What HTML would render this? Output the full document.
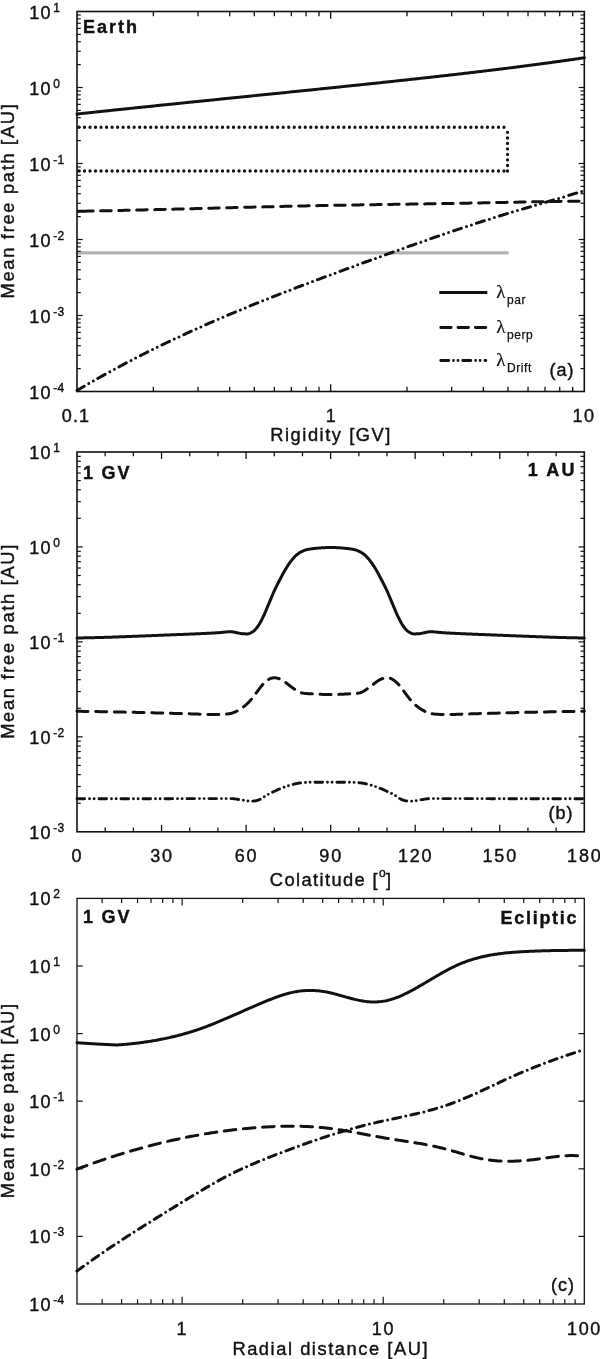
<!DOCTYPE html>
<html lang="en">
<head>
<meta charset="utf-8">
<title>Mean free paths</title>
<style>
html,body{margin:0;padding:0;background:#fff;}
body{width:600px;height:1359px;overflow:hidden;}
svg{display:block;}
svg text{font-family:"Liberation Sans",Arial,Helvetica,sans-serif;fill:#111;stroke:#111;stroke-width:0.4px;}
</style>
</head>
<body>
<svg width="600" height="1359" viewBox="0 0 600 1359">
<rect x="0" y="0" width="600" height="1359" fill="#ffffff"/>
<g id="plot-a">
<line x1="77" y1="252.8" x2="507.34" y2="252.8" stroke="#b2b2b2" stroke-width="3.2" stroke-linecap="round"/>
<path d="M504,127.25 H77" fill="none" stroke="#111" stroke-width="3.3" stroke-dasharray="0 5.52" stroke-linecap="round"/>
<path d="M504,171 H77" fill="none" stroke="#111" stroke-width="3.3" stroke-dasharray="0 5.52" stroke-linecap="round"/>
<path d="M507.5,171 V131" fill="none" stroke="#111" stroke-width="3.3" stroke-dasharray="0 5.52" stroke-linecap="round"/>
<path d="M77,114.03 L78.27,113.89 L79.54,113.76 L80.81,113.62 L82.09,113.48 L83.36,113.35 L84.63,113.21 L85.9,113.07 L87.17,112.94 L88.44,112.8 L89.71,112.67 L90.99,112.53 L92.26,112.4 L93.53,112.26 L94.8,112.13 L96.07,111.99 L97.34,111.86 L98.61,111.72 L99.89,111.59 L101.16,111.45 L102.43,111.32 L103.7,111.18 L104.97,111.05 L106.24,110.91 L107.51,110.78 L108.79,110.65 L110.06,110.51 L111.33,110.38 L112.6,110.24 L113.87,110.11 L115.14,109.98 L116.41,109.84 L117.69,109.71 L118.96,109.58 L120.23,109.44 L121.5,109.31 L122.77,109.18 L124.04,109.04 L125.31,108.91 L126.59,108.78 L127.86,108.65 L129.13,108.51 L130.4,108.38 L131.67,108.25 L132.94,108.12 L134.21,107.98 L135.49,107.85 L136.76,107.72 L138.03,107.59 L139.3,107.46 L140.57,107.32 L141.84,107.19 L143.11,107.06 L144.39,106.93 L145.66,106.8 L146.93,106.66 L148.2,106.53 L149.47,106.4 L150.74,106.27 L152.01,106.14 L153.29,106.01 L154.56,105.88 L155.83,105.74 L157.1,105.61 L158.37,105.48 L159.64,105.35 L160.91,105.22 L162.19,105.09 L163.46,104.96 L164.73,104.83 L166,104.7 L167.27,104.57 L168.54,104.44 L169.81,104.3 L171.09,104.17 L172.36,104.04 L173.63,103.91 L174.9,103.78 L176.17,103.65 L177.44,103.52 L178.71,103.39 L179.99,103.26 L181.26,103.13 L182.53,103 L183.8,102.87 L185.07,102.74 L186.34,102.61 L187.61,102.48 L188.89,102.35 L190.16,102.22 L191.43,102.09 L192.7,101.96 L193.97,101.83 L195.24,101.7 L196.51,101.57 L197.79,101.44 L199.06,101.31 L200.33,101.18 L201.6,101.05 L202.87,100.92 L204.14,100.79 L205.41,100.66 L206.69,100.54 L207.96,100.41 L209.23,100.28 L210.5,100.15 L211.77,100.02 L213.04,99.89 L214.31,99.76 L215.59,99.63 L216.86,99.5 L218.13,99.37 L219.4,99.24 L220.67,99.11 L221.94,98.98 L223.21,98.85 L224.49,98.72 L225.76,98.59 L227.03,98.47 L228.3,98.34 L229.57,98.21 L230.84,98.08 L232.11,97.95 L233.39,97.82 L234.66,97.69 L235.93,97.56 L237.2,97.43 L238.47,97.3 L239.74,97.17 L241.01,97.04 L242.29,96.91 L243.56,96.79 L244.83,96.66 L246.1,96.53 L247.37,96.4 L248.64,96.27 L249.91,96.14 L251.19,96.01 L252.46,95.88 L253.73,95.75 L255,95.62 L256.27,95.49 L257.54,95.36 L258.81,95.23 L260.09,95.1 L261.36,94.98 L262.63,94.85 L263.9,94.72 L265.17,94.59 L266.44,94.46 L267.71,94.33 L268.99,94.2 L270.26,94.07 L271.53,93.94 L272.8,93.81 L274.07,93.68 L275.34,93.55 L276.61,93.42 L277.89,93.29 L279.16,93.16 L280.43,93.03 L281.7,92.9 L282.97,92.77 L284.24,92.64 L285.51,92.51 L286.79,92.38 L288.06,92.25 L289.33,92.12 L290.6,91.99 L291.87,91.86 L293.14,91.73 L294.41,91.6 L295.69,91.47 L296.96,91.34 L298.23,91.21 L299.5,91.08 L300.77,90.95 L302.04,90.82 L303.31,90.69 L304.59,90.56 L305.86,90.43 L307.13,90.3 L308.4,90.17 L309.67,90.04 L310.94,89.91 L312.21,89.78 L313.49,89.65 L314.76,89.52 L316.03,89.39 L317.3,89.26 L318.57,89.13 L319.84,88.99 L321.11,88.86 L322.39,88.73 L323.66,88.6 L324.93,88.47 L326.2,88.34 L327.47,88.21 L328.74,88.08 L330.01,87.94 L331.29,87.81 L332.56,87.68 L333.83,87.55 L335.1,87.42 L336.37,87.29 L337.64,87.15 L338.91,87.02 L340.19,86.89 L341.46,86.76 L342.73,86.63 L344,86.49 L345.27,86.36 L346.54,86.23 L347.81,86.1 L349.09,85.96 L350.36,85.83 L351.63,85.7 L352.9,85.57 L354.17,85.43 L355.44,85.3 L356.71,85.17 L357.99,85.03 L359.26,84.9 L360.53,84.77 L361.8,84.63 L363.07,84.5 L364.34,84.37 L365.61,84.23 L366.89,84.1 L368.16,83.97 L369.43,83.83 L370.7,83.7 L371.97,83.56 L373.24,83.43 L374.51,83.3 L375.79,83.16 L377.06,83.03 L378.33,82.89 L379.6,82.76 L380.87,82.62 L382.14,82.49 L383.41,82.35 L384.69,82.22 L385.96,82.08 L387.23,81.95 L388.5,81.81 L389.77,81.68 L391.04,81.54 L392.31,81.4 L393.59,81.27 L394.86,81.13 L396.13,81 L397.4,80.86 L398.67,80.72 L399.94,80.59 L401.21,80.45 L402.49,80.31 L403.76,80.17 L405.03,80.04 L406.3,79.9 L407.57,79.76 L408.84,79.62 L410.11,79.49 L411.39,79.35 L412.66,79.21 L413.93,79.07 L415.2,78.93 L416.47,78.79 L417.74,78.65 L419.01,78.51 L420.29,78.37 L421.56,78.23 L422.83,78.09 L424.1,77.95 L425.37,77.81 L426.64,77.67 L427.91,77.53 L429.19,77.39 L430.46,77.25 L431.73,77.11 L433,76.97 L434.27,76.83 L435.54,76.68 L436.81,76.54 L438.09,76.4 L439.36,76.26 L440.63,76.11 L441.9,75.97 L443.17,75.83 L444.44,75.68 L445.71,75.54 L446.99,75.4 L448.26,75.25 L449.53,75.11 L450.8,74.96 L452.07,74.82 L453.34,74.67 L454.61,74.52 L455.89,74.38 L457.16,74.23 L458.43,74.09 L459.7,73.94 L460.97,73.79 L462.24,73.64 L463.51,73.5 L464.79,73.35 L466.06,73.2 L467.33,73.05 L468.6,72.9 L469.87,72.75 L471.14,72.6 L472.41,72.45 L473.69,72.3 L474.96,72.15 L476.23,72 L477.5,71.85 L478.77,71.7 L480.04,71.55 L481.31,71.4 L482.59,71.25 L483.86,71.09 L485.13,70.94 L486.4,70.79 L487.67,70.63 L488.94,70.48 L490.21,70.32 L491.49,70.17 L492.76,70.01 L494.03,69.86 L495.3,69.7 L496.57,69.55 L497.84,69.39 L499.11,69.23 L500.39,69.08 L501.66,68.92 L502.93,68.76 L504.2,68.6 L505.47,68.45 L506.74,68.29 L508.01,68.13 L509.29,67.97 L510.56,67.81 L511.83,67.65 L513.1,67.49 L514.37,67.32 L515.64,67.16 L516.91,67 L518.19,66.84 L519.46,66.68 L520.73,66.51 L522,66.35 L523.27,66.18 L524.54,66.02 L525.81,65.85 L527.09,65.69 L528.36,65.52 L529.63,65.36 L530.9,65.19 L532.17,65.02 L533.44,64.86 L534.71,64.69 L535.99,64.52 L537.26,64.35 L538.53,64.18 L539.8,64.01 L541.07,63.84 L542.34,63.67 L543.61,63.5 L544.89,63.33 L546.16,63.16 L547.43,62.98 L548.7,62.81 L549.97,62.64 L551.24,62.46 L552.51,62.29 L553.79,62.11 L555.06,61.94 L556.33,61.76 L557.6,61.59 L558.87,61.41 L560.14,61.23 L561.41,61.05 L562.69,60.88 L563.96,60.7 L565.23,60.52 L566.5,60.34 L567.77,60.16 L569.04,59.98 L570.31,59.8 L571.59,59.61 L572.86,59.43 L574.13,59.25 L575.4,59.07 L576.67,58.88 L577.94,58.7 L579.21,58.51 L580.49,58.33 L581.76,58.14 L583.03,57.96 L584.3,57.77" fill="none" stroke="#111" stroke-width="3" stroke-linecap="round" stroke-linejoin="round"/>
<path d="M77,211.3 L78.27,211.28 L79.54,211.25 L80.81,211.23 L82.09,211.21 L83.36,211.19 L84.63,211.16 L85.9,211.14 L87.17,211.11 L88.44,211.09 L89.71,211.07 L90.99,211.04 L92.26,211.02 L93.53,210.99 L94.8,210.97 L96.07,210.94 L97.34,210.92 L98.61,210.89 L99.89,210.87 L101.16,210.84 L102.43,210.81 L103.7,210.79 L104.97,210.76 L106.24,210.73 L107.51,210.71 L108.79,210.68 L110.06,210.65 L111.33,210.63 L112.6,210.6 L113.87,210.57 L115.14,210.55 L116.41,210.52 L117.69,210.49 L118.96,210.46 L120.23,210.43 L121.5,210.41 L122.77,210.38 L124.04,210.35 L125.31,210.32 L126.59,210.29 L127.86,210.26 L129.13,210.23 L130.4,210.2 L131.67,210.17 L132.94,210.15 L134.21,210.12 L135.49,210.09 L136.76,210.06 L138.03,210.03 L139.3,210 L140.57,209.97 L141.84,209.94 L143.11,209.91 L144.39,209.88 L145.66,209.85 L146.93,209.81 L148.2,209.78 L149.47,209.75 L150.74,209.72 L152.01,209.69 L153.29,209.66 L154.56,209.63 L155.83,209.6 L157.1,209.57 L158.37,209.54 L159.64,209.5 L160.91,209.47 L162.19,209.44 L163.46,209.41 L164.73,209.38 L166,209.35 L167.27,209.31 L168.54,209.28 L169.81,209.25 L171.09,209.22 L172.36,209.19 L173.63,209.15 L174.9,209.12 L176.17,209.09 L177.44,209.06 L178.71,209.02 L179.99,208.99 L181.26,208.96 L182.53,208.93 L183.8,208.89 L185.07,208.86 L186.34,208.83 L187.61,208.8 L188.89,208.76 L190.16,208.73 L191.43,208.7 L192.7,208.67 L193.97,208.63 L195.24,208.6 L196.51,208.57 L197.79,208.53 L199.06,208.5 L200.33,208.47 L201.6,208.44 L202.87,208.4 L204.14,208.37 L205.41,208.34 L206.69,208.3 L207.96,208.27 L209.23,208.24 L210.5,208.21 L211.77,208.17 L213.04,208.14 L214.31,208.11 L215.59,208.07 L216.86,208.04 L218.13,208.01 L219.4,207.98 L220.67,207.94 L221.94,207.91 L223.21,207.88 L224.49,207.84 L225.76,207.81 L227.03,207.78 L228.3,207.75 L229.57,207.71 L230.84,207.68 L232.11,207.65 L233.39,207.62 L234.66,207.58 L235.93,207.55 L237.2,207.52 L238.47,207.49 L239.74,207.45 L241.01,207.42 L242.29,207.39 L243.56,207.36 L244.83,207.32 L246.1,207.29 L247.37,207.26 L248.64,207.23 L249.91,207.2 L251.19,207.17 L252.46,207.13 L253.73,207.1 L255,207.07 L256.27,207.04 L257.54,207.01 L258.81,206.98 L260.09,206.94 L261.36,206.91 L262.63,206.88 L263.9,206.85 L265.17,206.82 L266.44,206.79 L267.71,206.76 L268.99,206.73 L270.26,206.7 L271.53,206.67 L272.8,206.64 L274.07,206.61 L275.34,206.58 L276.61,206.55 L277.89,206.52 L279.16,206.49 L280.43,206.46 L281.7,206.43 L282.97,206.4 L284.24,206.37 L285.51,206.34 L286.79,206.31 L288.06,206.28 L289.33,206.25 L290.6,206.22 L291.87,206.19 L293.14,206.16 L294.41,206.14 L295.69,206.11 L296.96,206.08 L298.23,206.05 L299.5,206.02 L300.77,206 L302.04,205.97 L303.31,205.94 L304.59,205.91 L305.86,205.89 L307.13,205.86 L308.4,205.83 L309.67,205.8 L310.94,205.78 L312.21,205.75 L313.49,205.73 L314.76,205.7 L316.03,205.67 L317.3,205.65 L318.57,205.62 L319.84,205.6 L321.11,205.57 L322.39,205.55 L323.66,205.52 L324.93,205.5 L326.2,205.47 L327.47,205.45 L328.74,205.42 L330.01,205.4 L331.29,205.38 L332.56,205.35 L333.83,205.33 L335.1,205.31 L336.37,205.28 L337.64,205.26 L338.91,205.24 L340.19,205.21 L341.46,205.19 L342.73,205.17 L344,205.15 L345.27,205.13 L346.54,205.1 L347.81,205.08 L349.09,205.06 L350.36,205.04 L351.63,205.02 L352.9,205 L354.17,204.98 L355.44,204.95 L356.71,204.93 L357.99,204.91 L359.26,204.89 L360.53,204.87 L361.8,204.85 L363.07,204.83 L364.34,204.81 L365.61,204.79 L366.89,204.77 L368.16,204.75 L369.43,204.73 L370.7,204.71 L371.97,204.69 L373.24,204.67 L374.51,204.65 L375.79,204.63 L377.06,204.61 L378.33,204.59 L379.6,204.58 L380.87,204.56 L382.14,204.54 L383.41,204.52 L384.69,204.5 L385.96,204.48 L387.23,204.46 L388.5,204.44 L389.77,204.42 L391.04,204.4 L392.31,204.38 L393.59,204.37 L394.86,204.35 L396.13,204.33 L397.4,204.31 L398.67,204.29 L399.94,204.27 L401.21,204.25 L402.49,204.23 L403.76,204.21 L405.03,204.19 L406.3,204.18 L407.57,204.16 L408.84,204.14 L410.11,204.12 L411.39,204.1 L412.66,204.08 L413.93,204.06 L415.2,204.04 L416.47,204.02 L417.74,204 L419.01,203.98 L420.29,203.96 L421.56,203.94 L422.83,203.92 L424.1,203.9 L425.37,203.88 L426.64,203.86 L427.91,203.84 L429.19,203.82 L430.46,203.8 L431.73,203.78 L433,203.76 L434.27,203.74 L435.54,203.72 L436.81,203.7 L438.09,203.68 L439.36,203.66 L440.63,203.64 L441.9,203.62 L443.17,203.6 L444.44,203.57 L445.71,203.55 L446.99,203.53 L448.26,203.51 L449.53,203.49 L450.8,203.47 L452.07,203.44 L453.34,203.42 L454.61,203.4 L455.89,203.37 L457.16,203.35 L458.43,203.33 L459.7,203.31 L460.97,203.28 L462.24,203.26 L463.51,203.23 L464.79,203.21 L466.06,203.19 L467.33,203.16 L468.6,203.14 L469.87,203.11 L471.14,203.09 L472.41,203.06 L473.69,203.04 L474.96,203.01 L476.23,202.99 L477.5,202.96 L478.77,202.94 L480.04,202.91 L481.31,202.89 L482.59,202.86 L483.86,202.83 L485.13,202.81 L486.4,202.78 L487.67,202.76 L488.94,202.73 L490.21,202.71 L491.49,202.68 L492.76,202.65 L494.03,202.63 L495.3,202.6 L496.57,202.58 L497.84,202.55 L499.11,202.52 L500.39,202.5 L501.66,202.47 L502.93,202.44 L504.2,202.42 L505.47,202.39 L506.74,202.37 L508.01,202.34 L509.29,202.32 L510.56,202.29 L511.83,202.26 L513.1,202.24 L514.37,202.21 L515.64,202.19 L516.91,202.16 L518.19,202.14 L519.46,202.11 L520.73,202.09 L522,202.06 L523.27,202.04 L524.54,202.01 L525.81,201.99 L527.09,201.96 L528.36,201.94 L529.63,201.91 L530.9,201.89 L532.17,201.87 L533.44,201.84 L534.71,201.82 L535.99,201.79 L537.26,201.77 L538.53,201.75 L539.8,201.73 L541.07,201.7 L542.34,201.68 L543.61,201.66 L544.89,201.64 L546.16,201.61 L547.43,201.59 L548.7,201.57 L549.97,201.55 L551.24,201.53 L552.51,201.51 L553.79,201.49 L555.06,201.47 L556.33,201.45 L557.6,201.43 L558.87,201.41 L560.14,201.39 L561.41,201.37 L562.69,201.36 L563.96,201.34 L565.23,201.32 L566.5,201.3 L567.77,201.29 L569.04,201.27 L570.31,201.25 L571.59,201.24 L572.86,201.22 L574.13,201.21 L575.4,201.19 L576.67,201.18 L577.94,201.16 L579.21,201.15 L580.49,201.14 L581.76,201.12 L583.03,201.11 L584.3,201.1" fill="none" stroke="#111" stroke-width="3" stroke-linecap="round" stroke-linejoin="round" stroke-dasharray="10.5 7.5" stroke-dashoffset="-5.7"/>
<line x1="77" y1="211.3" x2="82.7" y2="211.17" stroke="#111" stroke-width="3" />
<path d="M77,390.45 L78.27,389.7 L79.54,388.95 L80.81,388.2 L82.09,387.46 L83.36,386.71 L84.63,385.97 L85.9,385.23 L87.17,384.5 L88.44,383.77 L89.71,383.03 L90.99,382.3 L92.26,381.58 L93.53,380.85 L94.8,380.13 L96.07,379.41 L97.34,378.69 L98.61,377.98 L99.89,377.27 L101.16,376.55 L102.43,375.85 L103.7,375.14 L104.97,374.43 L106.24,373.73 L107.51,373.03 L108.79,372.33 L110.06,371.64 L111.33,370.94 L112.6,370.25 L113.87,369.56 L115.14,368.88 L116.41,368.19 L117.69,367.51 L118.96,366.83 L120.23,366.15 L121.5,365.47 L122.77,364.8 L124.04,364.12 L125.31,363.45 L126.59,362.78 L127.86,362.12 L129.13,361.45 L130.4,360.79 L131.67,360.13 L132.94,359.47 L134.21,358.81 L135.49,358.16 L136.76,357.51 L138.03,356.86 L139.3,356.21 L140.57,355.56 L141.84,354.91 L143.11,354.27 L144.39,353.63 L145.66,352.99 L146.93,352.35 L148.2,351.72 L149.47,351.08 L150.74,350.45 L152.01,349.82 L153.29,349.19 L154.56,348.56 L155.83,347.94 L157.1,347.32 L158.37,346.7 L159.64,346.08 L160.91,345.46 L162.19,344.84 L163.46,344.23 L164.73,343.61 L166,343 L167.27,342.39 L168.54,341.79 L169.81,341.18 L171.09,340.58 L172.36,339.98 L173.63,339.37 L174.9,338.78 L176.17,338.18 L177.44,337.58 L178.71,336.99 L179.99,336.39 L181.26,335.8 L182.53,335.21 L183.8,334.63 L185.07,334.04 L186.34,333.46 L187.61,332.87 L188.89,332.29 L190.16,331.71 L191.43,331.13 L192.7,330.56 L193.97,329.98 L195.24,329.41 L196.51,328.83 L197.79,328.26 L199.06,327.69 L200.33,327.12 L201.6,326.56 L202.87,325.99 L204.14,325.43 L205.41,324.87 L206.69,324.3 L207.96,323.75 L209.23,323.19 L210.5,322.63 L211.77,322.07 L213.04,321.52 L214.31,320.97 L215.59,320.42 L216.86,319.87 L218.13,319.32 L219.4,318.77 L220.67,318.22 L221.94,317.68 L223.21,317.13 L224.49,316.59 L225.76,316.05 L227.03,315.51 L228.3,314.97 L229.57,314.44 L230.84,313.9 L232.11,313.36 L233.39,312.83 L234.66,312.3 L235.93,311.77 L237.2,311.24 L238.47,310.71 L239.74,310.18 L241.01,309.65 L242.29,309.13 L243.56,308.6 L244.83,308.08 L246.1,307.56 L247.37,307.04 L248.64,306.51 L249.91,306 L251.19,305.48 L252.46,304.96 L253.73,304.45 L255,303.93 L256.27,303.42 L257.54,302.9 L258.81,302.39 L260.09,301.88 L261.36,301.37 L262.63,300.86 L263.9,300.35 L265.17,299.85 L266.44,299.34 L267.71,298.84 L268.99,298.33 L270.26,297.83 L271.53,297.33 L272.8,296.83 L274.07,296.32 L275.34,295.83 L276.61,295.33 L277.89,294.83 L279.16,294.33 L280.43,293.84 L281.7,293.34 L282.97,292.85 L284.24,292.35 L285.51,291.86 L286.79,291.37 L288.06,290.87 L289.33,290.38 L290.6,289.89 L291.87,289.41 L293.14,288.92 L294.41,288.43 L295.69,287.94 L296.96,287.46 L298.23,286.97 L299.5,286.49 L300.77,286 L302.04,285.52 L303.31,285.04 L304.59,284.55 L305.86,284.07 L307.13,283.59 L308.4,283.11 L309.67,282.63 L310.94,282.15 L312.21,281.67 L313.49,281.2 L314.76,280.72 L316.03,280.24 L317.3,279.77 L318.57,279.29 L319.84,278.81 L321.11,278.34 L322.39,277.87 L323.66,277.39 L324.93,276.92 L326.2,276.45 L327.47,275.97 L328.74,275.5 L330.01,275.03 L331.29,274.56 L332.56,274.09 L333.83,273.62 L335.1,273.15 L336.37,272.68 L337.64,272.21 L338.91,271.75 L340.19,271.28 L341.46,270.81 L342.73,270.34 L344,269.88 L345.27,269.41 L346.54,268.94 L347.81,268.48 L349.09,268.01 L350.36,267.55 L351.63,267.08 L352.9,266.62 L354.17,266.15 L355.44,265.69 L356.71,265.23 L357.99,264.76 L359.26,264.3 L360.53,263.84 L361.8,263.37 L363.07,262.91 L364.34,262.45 L365.61,261.99 L366.89,261.52 L368.16,261.06 L369.43,260.6 L370.7,260.14 L371.97,259.68 L373.24,259.22 L374.51,258.75 L375.79,258.29 L377.06,257.83 L378.33,257.37 L379.6,256.91 L380.87,256.45 L382.14,255.99 L383.41,255.53 L384.69,255.07 L385.96,254.61 L387.23,254.15 L388.5,253.69 L389.77,253.24 L391.04,252.78 L392.31,252.32 L393.59,251.86 L394.86,251.41 L396.13,250.95 L397.4,250.49 L398.67,250.04 L399.94,249.58 L401.21,249.13 L402.49,248.67 L403.76,248.22 L405.03,247.76 L406.3,247.31 L407.57,246.86 L408.84,246.4 L410.11,245.95 L411.39,245.5 L412.66,245.05 L413.93,244.6 L415.2,244.15 L416.47,243.7 L417.74,243.25 L419.01,242.8 L420.29,242.35 L421.56,241.91 L422.83,241.46 L424.1,241.01 L425.37,240.57 L426.64,240.12 L427.91,239.68 L429.19,239.23 L430.46,238.79 L431.73,238.35 L433,237.91 L434.27,237.46 L435.54,237.02 L436.81,236.58 L438.09,236.14 L439.36,235.71 L440.63,235.27 L441.9,234.83 L443.17,234.39 L444.44,233.96 L445.71,233.52 L446.99,233.09 L448.26,232.66 L449.53,232.23 L450.8,231.79 L452.07,231.36 L453.34,230.93 L454.61,230.5 L455.89,230.08 L457.16,229.65 L458.43,229.22 L459.7,228.8 L460.97,228.37 L462.24,227.95 L463.51,227.53 L464.79,227.1 L466.06,226.68 L467.33,226.26 L468.6,225.84 L469.87,225.43 L471.14,225.01 L472.41,224.59 L473.69,224.18 L474.96,223.76 L476.23,223.35 L477.5,222.94 L478.77,222.53 L480.04,222.12 L481.31,221.71 L482.59,221.3 L483.86,220.89 L485.13,220.49 L486.4,220.08 L487.67,219.68 L488.94,219.28 L490.21,218.88 L491.49,218.48 L492.76,218.08 L494.03,217.68 L495.3,217.28 L496.57,216.89 L497.84,216.5 L499.11,216.1 L500.39,215.71 L501.66,215.32 L502.93,214.93 L504.2,214.54 L505.47,214.16 L506.74,213.77 L508.01,213.39 L509.29,213 L510.56,212.62 L511.83,212.24 L513.1,211.86 L514.37,211.48 L515.64,211.1 L516.91,210.72 L518.19,210.34 L519.46,209.96 L520.73,209.59 L522,209.21 L523.27,208.83 L524.54,208.46 L525.81,208.08 L527.09,207.71 L528.36,207.33 L529.63,206.96 L530.9,206.59 L532.17,206.21 L533.44,205.84 L534.71,205.47 L535.99,205.1 L537.26,204.72 L538.53,204.35 L539.8,203.98 L541.07,203.6 L542.34,203.23 L543.61,202.86 L544.89,202.48 L546.16,202.11 L547.43,201.74 L548.7,201.36 L549.97,200.99 L551.24,200.61 L552.51,200.24 L553.79,199.86 L555.06,199.49 L556.33,199.11 L557.6,198.73 L558.87,198.35 L560.14,197.98 L561.41,197.6 L562.69,197.22 L563.96,196.84 L565.23,196.45 L566.5,196.07 L567.77,195.69 L569.04,195.3 L570.31,194.92 L571.59,194.53 L572.86,194.14 L574.13,193.75 L575.4,193.36 L576.67,192.97 L577.94,192.58 L579.21,192.19 L580.49,191.79 L581.76,191.39 L583.03,191 L584.3,190.6" fill="none" stroke="#111" stroke-width="3" stroke-linecap="round" stroke-linejoin="round" stroke-dasharray="8.3 5.3 0 5.2 0 5.3"/>
<rect x="77" y="11.5" width="507.3" height="380" fill="none" stroke="#111" stroke-width="1.6"/>
<line x1="77" y1="64.62" x2="80.8" y2="64.62" stroke="#111" stroke-width="1.2" />
<line x1="584.3" y1="64.62" x2="580.5" y2="64.62" stroke="#111" stroke-width="1.2" />
<line x1="77" y1="51.24" x2="80.8" y2="51.24" stroke="#111" stroke-width="1.2" />
<line x1="584.3" y1="51.24" x2="580.5" y2="51.24" stroke="#111" stroke-width="1.2" />
<line x1="77" y1="41.74" x2="80.8" y2="41.74" stroke="#111" stroke-width="1.2" />
<line x1="584.3" y1="41.74" x2="580.5" y2="41.74" stroke="#111" stroke-width="1.2" />
<line x1="77" y1="34.38" x2="80.8" y2="34.38" stroke="#111" stroke-width="1.2" />
<line x1="584.3" y1="34.38" x2="580.5" y2="34.38" stroke="#111" stroke-width="1.2" />
<line x1="77" y1="28.36" x2="80.8" y2="28.36" stroke="#111" stroke-width="1.2" />
<line x1="584.3" y1="28.36" x2="580.5" y2="28.36" stroke="#111" stroke-width="1.2" />
<line x1="77" y1="23.27" x2="80.8" y2="23.27" stroke="#111" stroke-width="1.2" />
<line x1="584.3" y1="23.27" x2="580.5" y2="23.27" stroke="#111" stroke-width="1.2" />
<line x1="77" y1="18.87" x2="80.8" y2="18.87" stroke="#111" stroke-width="1.2" />
<line x1="584.3" y1="18.87" x2="580.5" y2="18.87" stroke="#111" stroke-width="1.2" />
<line x1="77" y1="14.98" x2="80.8" y2="14.98" stroke="#111" stroke-width="1.2" />
<line x1="584.3" y1="14.98" x2="580.5" y2="14.98" stroke="#111" stroke-width="1.2" />
<line x1="77" y1="87.5" x2="82.7" y2="87.5" stroke="#111" stroke-width="1.2" />
<line x1="584.3" y1="87.5" x2="578.6" y2="87.5" stroke="#111" stroke-width="1.2" />
<line x1="77" y1="140.62" x2="80.8" y2="140.62" stroke="#111" stroke-width="1.2" />
<line x1="584.3" y1="140.62" x2="580.5" y2="140.62" stroke="#111" stroke-width="1.2" />
<line x1="77" y1="127.24" x2="80.8" y2="127.24" stroke="#111" stroke-width="1.2" />
<line x1="584.3" y1="127.24" x2="580.5" y2="127.24" stroke="#111" stroke-width="1.2" />
<line x1="77" y1="117.74" x2="80.8" y2="117.74" stroke="#111" stroke-width="1.2" />
<line x1="584.3" y1="117.74" x2="580.5" y2="117.74" stroke="#111" stroke-width="1.2" />
<line x1="77" y1="110.38" x2="80.8" y2="110.38" stroke="#111" stroke-width="1.2" />
<line x1="584.3" y1="110.38" x2="580.5" y2="110.38" stroke="#111" stroke-width="1.2" />
<line x1="77" y1="104.36" x2="80.8" y2="104.36" stroke="#111" stroke-width="1.2" />
<line x1="584.3" y1="104.36" x2="580.5" y2="104.36" stroke="#111" stroke-width="1.2" />
<line x1="77" y1="99.27" x2="80.8" y2="99.27" stroke="#111" stroke-width="1.2" />
<line x1="584.3" y1="99.27" x2="580.5" y2="99.27" stroke="#111" stroke-width="1.2" />
<line x1="77" y1="94.87" x2="80.8" y2="94.87" stroke="#111" stroke-width="1.2" />
<line x1="584.3" y1="94.87" x2="580.5" y2="94.87" stroke="#111" stroke-width="1.2" />
<line x1="77" y1="90.98" x2="80.8" y2="90.98" stroke="#111" stroke-width="1.2" />
<line x1="584.3" y1="90.98" x2="580.5" y2="90.98" stroke="#111" stroke-width="1.2" />
<line x1="77" y1="163.5" x2="82.7" y2="163.5" stroke="#111" stroke-width="1.2" />
<line x1="584.3" y1="163.5" x2="578.6" y2="163.5" stroke="#111" stroke-width="1.2" />
<line x1="77" y1="216.62" x2="80.8" y2="216.62" stroke="#111" stroke-width="1.2" />
<line x1="584.3" y1="216.62" x2="580.5" y2="216.62" stroke="#111" stroke-width="1.2" />
<line x1="77" y1="203.24" x2="80.8" y2="203.24" stroke="#111" stroke-width="1.2" />
<line x1="584.3" y1="203.24" x2="580.5" y2="203.24" stroke="#111" stroke-width="1.2" />
<line x1="77" y1="193.74" x2="80.8" y2="193.74" stroke="#111" stroke-width="1.2" />
<line x1="584.3" y1="193.74" x2="580.5" y2="193.74" stroke="#111" stroke-width="1.2" />
<line x1="77" y1="186.38" x2="80.8" y2="186.38" stroke="#111" stroke-width="1.2" />
<line x1="584.3" y1="186.38" x2="580.5" y2="186.38" stroke="#111" stroke-width="1.2" />
<line x1="77" y1="180.36" x2="80.8" y2="180.36" stroke="#111" stroke-width="1.2" />
<line x1="584.3" y1="180.36" x2="580.5" y2="180.36" stroke="#111" stroke-width="1.2" />
<line x1="77" y1="175.27" x2="80.8" y2="175.27" stroke="#111" stroke-width="1.2" />
<line x1="584.3" y1="175.27" x2="580.5" y2="175.27" stroke="#111" stroke-width="1.2" />
<line x1="77" y1="170.87" x2="80.8" y2="170.87" stroke="#111" stroke-width="1.2" />
<line x1="584.3" y1="170.87" x2="580.5" y2="170.87" stroke="#111" stroke-width="1.2" />
<line x1="77" y1="166.98" x2="80.8" y2="166.98" stroke="#111" stroke-width="1.2" />
<line x1="584.3" y1="166.98" x2="580.5" y2="166.98" stroke="#111" stroke-width="1.2" />
<line x1="77" y1="239.5" x2="82.7" y2="239.5" stroke="#111" stroke-width="1.2" />
<line x1="584.3" y1="239.5" x2="578.6" y2="239.5" stroke="#111" stroke-width="1.2" />
<line x1="77" y1="292.62" x2="80.8" y2="292.62" stroke="#111" stroke-width="1.2" />
<line x1="584.3" y1="292.62" x2="580.5" y2="292.62" stroke="#111" stroke-width="1.2" />
<line x1="77" y1="279.24" x2="80.8" y2="279.24" stroke="#111" stroke-width="1.2" />
<line x1="584.3" y1="279.24" x2="580.5" y2="279.24" stroke="#111" stroke-width="1.2" />
<line x1="77" y1="269.74" x2="80.8" y2="269.74" stroke="#111" stroke-width="1.2" />
<line x1="584.3" y1="269.74" x2="580.5" y2="269.74" stroke="#111" stroke-width="1.2" />
<line x1="77" y1="262.38" x2="80.8" y2="262.38" stroke="#111" stroke-width="1.2" />
<line x1="584.3" y1="262.38" x2="580.5" y2="262.38" stroke="#111" stroke-width="1.2" />
<line x1="77" y1="256.36" x2="80.8" y2="256.36" stroke="#111" stroke-width="1.2" />
<line x1="584.3" y1="256.36" x2="580.5" y2="256.36" stroke="#111" stroke-width="1.2" />
<line x1="77" y1="251.27" x2="80.8" y2="251.27" stroke="#111" stroke-width="1.2" />
<line x1="584.3" y1="251.27" x2="580.5" y2="251.27" stroke="#111" stroke-width="1.2" />
<line x1="77" y1="246.87" x2="80.8" y2="246.87" stroke="#111" stroke-width="1.2" />
<line x1="584.3" y1="246.87" x2="580.5" y2="246.87" stroke="#111" stroke-width="1.2" />
<line x1="77" y1="242.98" x2="80.8" y2="242.98" stroke="#111" stroke-width="1.2" />
<line x1="584.3" y1="242.98" x2="580.5" y2="242.98" stroke="#111" stroke-width="1.2" />
<line x1="77" y1="315.5" x2="82.7" y2="315.5" stroke="#111" stroke-width="1.2" />
<line x1="584.3" y1="315.5" x2="578.6" y2="315.5" stroke="#111" stroke-width="1.2" />
<line x1="77" y1="368.62" x2="80.8" y2="368.62" stroke="#111" stroke-width="1.2" />
<line x1="584.3" y1="368.62" x2="580.5" y2="368.62" stroke="#111" stroke-width="1.2" />
<line x1="77" y1="355.24" x2="80.8" y2="355.24" stroke="#111" stroke-width="1.2" />
<line x1="584.3" y1="355.24" x2="580.5" y2="355.24" stroke="#111" stroke-width="1.2" />
<line x1="77" y1="345.74" x2="80.8" y2="345.74" stroke="#111" stroke-width="1.2" />
<line x1="584.3" y1="345.74" x2="580.5" y2="345.74" stroke="#111" stroke-width="1.2" />
<line x1="77" y1="338.38" x2="80.8" y2="338.38" stroke="#111" stroke-width="1.2" />
<line x1="584.3" y1="338.38" x2="580.5" y2="338.38" stroke="#111" stroke-width="1.2" />
<line x1="77" y1="332.36" x2="80.8" y2="332.36" stroke="#111" stroke-width="1.2" />
<line x1="584.3" y1="332.36" x2="580.5" y2="332.36" stroke="#111" stroke-width="1.2" />
<line x1="77" y1="327.27" x2="80.8" y2="327.27" stroke="#111" stroke-width="1.2" />
<line x1="584.3" y1="327.27" x2="580.5" y2="327.27" stroke="#111" stroke-width="1.2" />
<line x1="77" y1="322.87" x2="80.8" y2="322.87" stroke="#111" stroke-width="1.2" />
<line x1="584.3" y1="322.87" x2="580.5" y2="322.87" stroke="#111" stroke-width="1.2" />
<line x1="77" y1="318.98" x2="80.8" y2="318.98" stroke="#111" stroke-width="1.2" />
<line x1="584.3" y1="318.98" x2="580.5" y2="318.98" stroke="#111" stroke-width="1.2" />
<line x1="153.36" y1="391.5" x2="153.36" y2="386.8" stroke="#111" stroke-width="1.3" />
<line x1="153.36" y1="11.5" x2="153.36" y2="16.2" stroke="#111" stroke-width="1.3" />
<line x1="198.02" y1="391.5" x2="198.02" y2="386.8" stroke="#111" stroke-width="1.3" />
<line x1="198.02" y1="11.5" x2="198.02" y2="16.2" stroke="#111" stroke-width="1.3" />
<line x1="229.71" y1="391.5" x2="229.71" y2="386.8" stroke="#111" stroke-width="1.3" />
<line x1="229.71" y1="11.5" x2="229.71" y2="16.2" stroke="#111" stroke-width="1.3" />
<line x1="254.29" y1="391.5" x2="254.29" y2="386.8" stroke="#111" stroke-width="1.3" />
<line x1="254.29" y1="11.5" x2="254.29" y2="16.2" stroke="#111" stroke-width="1.3" />
<line x1="274.38" y1="391.5" x2="274.38" y2="386.8" stroke="#111" stroke-width="1.3" />
<line x1="274.38" y1="11.5" x2="274.38" y2="16.2" stroke="#111" stroke-width="1.3" />
<line x1="291.36" y1="391.5" x2="291.36" y2="386.8" stroke="#111" stroke-width="1.3" />
<line x1="291.36" y1="11.5" x2="291.36" y2="16.2" stroke="#111" stroke-width="1.3" />
<line x1="306.07" y1="391.5" x2="306.07" y2="386.8" stroke="#111" stroke-width="1.3" />
<line x1="306.07" y1="11.5" x2="306.07" y2="16.2" stroke="#111" stroke-width="1.3" />
<line x1="319.04" y1="391.5" x2="319.04" y2="386.8" stroke="#111" stroke-width="1.3" />
<line x1="319.04" y1="11.5" x2="319.04" y2="16.2" stroke="#111" stroke-width="1.3" />
<line x1="330.65" y1="391.5" x2="330.65" y2="384.2" stroke="#111" stroke-width="1.3" />
<line x1="330.65" y1="11.5" x2="330.65" y2="18.8" stroke="#111" stroke-width="1.3" />
<line x1="407.01" y1="391.5" x2="407.01" y2="386.8" stroke="#111" stroke-width="1.3" />
<line x1="407.01" y1="11.5" x2="407.01" y2="16.2" stroke="#111" stroke-width="1.3" />
<line x1="451.67" y1="391.5" x2="451.67" y2="386.8" stroke="#111" stroke-width="1.3" />
<line x1="451.67" y1="11.5" x2="451.67" y2="16.2" stroke="#111" stroke-width="1.3" />
<line x1="483.36" y1="391.5" x2="483.36" y2="386.8" stroke="#111" stroke-width="1.3" />
<line x1="483.36" y1="11.5" x2="483.36" y2="16.2" stroke="#111" stroke-width="1.3" />
<line x1="507.94" y1="391.5" x2="507.94" y2="386.8" stroke="#111" stroke-width="1.3" />
<line x1="507.94" y1="11.5" x2="507.94" y2="16.2" stroke="#111" stroke-width="1.3" />
<line x1="528.03" y1="391.5" x2="528.03" y2="386.8" stroke="#111" stroke-width="1.3" />
<line x1="528.03" y1="11.5" x2="528.03" y2="16.2" stroke="#111" stroke-width="1.3" />
<line x1="545.01" y1="391.5" x2="545.01" y2="386.8" stroke="#111" stroke-width="1.3" />
<line x1="545.01" y1="11.5" x2="545.01" y2="16.2" stroke="#111" stroke-width="1.3" />
<line x1="559.72" y1="391.5" x2="559.72" y2="386.8" stroke="#111" stroke-width="1.3" />
<line x1="559.72" y1="11.5" x2="559.72" y2="16.2" stroke="#111" stroke-width="1.3" />
<line x1="572.69" y1="391.5" x2="572.69" y2="386.8" stroke="#111" stroke-width="1.3" />
<line x1="572.69" y1="11.5" x2="572.69" y2="16.2" stroke="#111" stroke-width="1.3" />
<text x="29.2" y="18.5" font-size="18" letter-spacing="1.2">10<tspan font-size="12" dy="-7" dx="1.6" letter-spacing="0.4">1</tspan></text>
<text x="29.2" y="94.5" font-size="18" letter-spacing="1.2">10<tspan font-size="12" dy="-7" dx="1.6" letter-spacing="0.4">0</tspan></text>
<text x="29.2" y="170.5" font-size="18" letter-spacing="1.2">10<tspan font-size="12" dy="-7" dx="1.6" letter-spacing="0.4">-1</tspan></text>
<text x="29.2" y="246.5" font-size="18" letter-spacing="1.2">10<tspan font-size="12" dy="-7" dx="1.6" letter-spacing="0.4">-2</tspan></text>
<text x="29.2" y="322.5" font-size="18" letter-spacing="1.2">10<tspan font-size="12" dy="-7" dx="1.6" letter-spacing="0.4">-3</tspan></text>
<text x="29.2" y="398.5" font-size="18" letter-spacing="1.2">10<tspan font-size="12" dy="-7" dx="1.6" letter-spacing="0.4">-4</tspan></text>
<text transform="translate(14.3 200.5) rotate(-90)" font-size="18.3" text-anchor="middle" letter-spacing="1.7">Mean free path [AU]</text>
<text x="76" y="422.3" font-size="18" text-anchor="middle" font-weight="normal" letter-spacing="1.2" >0.1</text>
<text x="331.25" y="422.3" font-size="18" text-anchor="middle" font-weight="normal" letter-spacing="1.2" >1</text>
<text x="584" y="422.3" font-size="18" text-anchor="middle" font-weight="normal" letter-spacing="1.4" >10</text>
<text x="270.2" y="441.4" font-size="18.3" text-anchor="start" font-weight="normal" letter-spacing="1.55" >Rigidity [GV]</text>
<text x="83" y="32.7" font-size="18" text-anchor="start" font-weight="bold" letter-spacing="2" >Earth</text>
<line x1="439.3" y1="292.5" x2="487.3" y2="292.5" stroke="#111" stroke-width="2.8" />
<line x1="440.7" y1="327.5" x2="485.9" y2="327.5" stroke="#111" stroke-width="2.8" stroke-dasharray="10.5 6.8" stroke-linecap="round"/>
<line x1="440.7" y1="360.5" x2="485.9" y2="360.5" stroke="#111" stroke-width="2.8" stroke-dasharray="8 4.8 0 4.5 0 4.8" stroke-linecap="round"/>
<text x="496.3" y="298" font-size="19" style="font-family:'Liberation Serif','DejaVu Serif',serif;stroke-width:0.15px">λ<tspan style="font-family:'Liberation Sans',Arial,sans-serif;stroke-width:0.25px" font-size="12" dy="6" dx="1.5" letter-spacing="0.55">par</tspan></text>
<text x="496.3" y="333" font-size="19" style="font-family:'Liberation Serif','DejaVu Serif',serif;stroke-width:0.15px">λ<tspan style="font-family:'Liberation Sans',Arial,sans-serif;stroke-width:0.25px" font-size="12" dy="6" dx="1.5" letter-spacing="0.55">perp</tspan></text>
<text x="496.3" y="366" font-size="19" style="font-family:'Liberation Serif','DejaVu Serif',serif;stroke-width:0.15px">λ<tspan style="font-family:'Liberation Sans',Arial,sans-serif;stroke-width:0.25px" font-size="12" dy="6" dx="1.5" letter-spacing="0.55">Drift</tspan></text>
<text x="549.6" y="375.5" font-size="18" text-anchor="start" font-weight="normal" letter-spacing="1" >(a)</text>
</g>
<g id="plot-b">
<path d="M77,638 L77.56,637.99 L78.13,637.98 L78.69,637.97 L79.26,637.96 L79.82,637.95 L80.39,637.94 L80.95,637.93 L81.51,637.92 L82.08,637.91 L82.64,637.9 L83.21,637.88 L83.77,637.87 L84.34,637.86 L84.9,637.85 L85.46,637.84 L86.03,637.83 L86.59,637.81 L87.16,637.8 L87.72,637.79 L88.29,637.78 L88.85,637.76 L89.41,637.75 L89.98,637.74 L90.54,637.73 L91.11,637.71 L91.67,637.7 L92.24,637.69 L92.8,637.67 L93.36,637.66 L93.93,637.65 L94.49,637.63 L95.06,637.62 L95.62,637.6 L96.19,637.59 L96.75,637.57 L97.31,637.56 L97.88,637.55 L98.44,637.53 L99.01,637.52 L99.57,637.5 L100.14,637.49 L100.7,637.47 L101.26,637.46 L101.83,637.44 L102.39,637.42 L102.96,637.41 L103.52,637.39 L104.09,637.38 L104.65,637.36 L105.21,637.35 L105.78,637.33 L106.34,637.31 L106.91,637.29 L107.47,637.28 L108.04,637.26 L108.6,637.24 L109.16,637.22 L109.73,637.21 L110.29,637.19 L110.86,637.17 L111.42,637.15 L111.99,637.13 L112.55,637.11 L113.11,637.09 L113.68,637.07 L114.24,637.05 L114.81,637.03 L115.37,637.01 L115.94,636.99 L116.5,636.97 L117.06,636.95 L117.63,636.93 L118.19,636.91 L118.76,636.89 L119.32,636.87 L119.89,636.85 L120.45,636.82 L121.01,636.8 L121.58,636.78 L122.14,636.76 L122.71,636.74 L123.27,636.72 L123.84,636.69 L124.4,636.67 L124.96,636.65 L125.53,636.63 L126.09,636.61 L126.66,636.59 L127.22,636.56 L127.79,636.54 L128.35,636.52 L128.92,636.5 L129.48,636.48 L130.04,636.45 L130.61,636.43 L131.17,636.41 L131.74,636.39 L132.3,636.37 L132.87,636.35 L133.43,636.32 L133.99,636.3 L134.56,636.28 L135.12,636.26 L135.69,636.24 L136.25,636.22 L136.82,636.2 L137.38,636.17 L137.94,636.15 L138.51,636.13 L139.07,636.11 L139.64,636.09 L140.2,636.07 L140.77,636.05 L141.33,636.03 L141.89,636 L142.46,635.98 L143.02,635.96 L143.59,635.94 L144.15,635.92 L144.72,635.9 L145.28,635.88 L145.84,635.85 L146.41,635.83 L146.97,635.81 L147.54,635.79 L148.1,635.77 L148.67,635.74 L149.23,635.72 L149.79,635.7 L150.36,635.68 L150.92,635.66 L151.49,635.64 L152.05,635.61 L152.62,635.59 L153.18,635.57 L153.74,635.55 L154.31,635.53 L154.87,635.5 L155.44,635.48 L156,635.46 L156.57,635.44 L157.13,635.41 L157.69,635.39 L158.26,635.37 L158.82,635.35 L159.39,635.33 L159.95,635.3 L160.52,635.28 L161.08,635.26 L161.64,635.24 L162.21,635.21 L162.77,635.19 L163.34,635.17 L163.9,635.15 L164.47,635.12 L165.03,635.1 L165.59,635.08 L166.16,635.05 L166.72,635.03 L167.29,635.01 L167.85,634.99 L168.42,634.96 L168.98,634.94 L169.54,634.92 L170.11,634.9 L170.67,634.87 L171.24,634.85 L171.8,634.83 L172.37,634.8 L172.93,634.78 L173.49,634.76 L174.06,634.74 L174.62,634.71 L175.19,634.69 L175.75,634.67 L176.32,634.65 L176.88,634.62 L177.44,634.6 L178.01,634.58 L178.57,634.56 L179.14,634.53 L179.7,634.51 L180.27,634.49 L180.83,634.47 L181.39,634.44 L181.96,634.42 L182.52,634.4 L183.09,634.38 L183.65,634.35 L184.22,634.33 L184.78,634.31 L185.34,634.28 L185.91,634.26 L186.47,634.24 L187.04,634.21 L187.6,634.19 L188.17,634.17 L188.73,634.15 L189.29,634.12 L189.86,634.1 L190.42,634.07 L190.99,634.05 L191.55,634.03 L192.12,634 L192.68,633.98 L193.24,633.95 L193.81,633.93 L194.37,633.91 L194.94,633.88 L195.5,633.86 L196.07,633.83 L196.63,633.81 L197.19,633.78 L197.76,633.76 L198.32,633.73 L198.89,633.71 L199.45,633.68 L200.02,633.65 L200.58,633.63 L201.14,633.6 L201.71,633.58 L202.27,633.55 L202.84,633.52 L203.4,633.5 L203.97,633.47 L204.53,633.44 L205.09,633.41 L205.66,633.39 L206.22,633.36 L206.79,633.33 L207.35,633.31 L207.92,633.28 L208.48,633.25 L209.04,633.22 L209.61,633.19 L210.17,633.17 L210.74,633.14 L211.3,633.11 L211.87,633.08 L212.43,633.05 L212.99,633.02 L213.56,632.99 L214.12,632.96 L214.69,632.93 L215.25,632.89 L215.82,632.86 L216.38,632.83 L216.94,632.79 L217.51,632.76 L218.07,632.73 L218.64,632.69 L219.2,632.65 L219.77,632.62 L220.33,632.58 L220.89,632.53 L221.46,632.48 L222.02,632.42 L222.59,632.36 L223.15,632.3 L223.72,632.24 L224.28,632.17 L224.84,632.11 L225.41,632.04 L225.97,631.98 L226.54,631.93 L227.1,631.87 L227.67,631.82 L228.23,631.78 L228.79,631.75 L229.36,631.72 L229.92,631.71 L230.49,631.7 L231.05,631.71 L231.62,631.75 L232.18,631.81 L232.75,631.89 L233.31,631.98 L233.87,632.09 L234.44,632.21 L235,632.33 L235.57,632.45 L236.13,632.57 L236.7,632.69 L237.26,632.8 L237.82,632.9 L238.39,633.01 L238.95,633.12 L239.52,633.24 L240.08,633.37 L240.65,633.48 L241.21,633.59 L241.77,633.68 L242.34,633.75 L242.9,633.8 L243.47,633.82 L244.03,633.84 L244.6,633.85 L245.16,633.87 L245.72,633.88 L246.29,633.89 L246.85,633.9 L247.42,633.9 L247.98,633.87 L248.55,633.77 L249.11,633.61 L249.67,633.4 L250.24,633.15 L250.8,632.86 L251.37,632.55 L251.93,632.23 L252.5,631.9 L253.06,631.54 L253.62,631.12 L254.19,630.63 L254.75,630.09 L255.32,629.49 L255.88,628.86 L256.45,628.19 L257.01,627.49 L257.57,626.76 L258.14,626.01 L258.7,625.2 L259.27,624.31 L259.83,623.34 L260.4,622.32 L260.96,621.25 L261.52,620.14 L262.09,619 L262.65,617.84 L263.22,616.68 L263.78,615.52 L264.35,614.3 L264.91,613.04 L265.47,611.73 L266.04,610.4 L266.6,609.05 L267.17,607.69 L267.73,606.32 L268.3,604.97 L268.86,603.63 L269.42,602.3 L269.99,600.96 L270.55,599.61 L271.12,598.25 L271.68,596.89 L272.25,595.55 L272.81,594.22 L273.37,592.91 L273.94,591.63 L274.5,590.39 L275.07,589.19 L275.63,588.01 L276.2,586.85 L276.76,585.71 L277.32,584.59 L277.89,583.48 L278.45,582.38 L279.02,581.29 L279.58,580.2 L280.15,579.12 L280.71,578.04 L281.27,576.96 L281.84,575.88 L282.4,574.82 L282.97,573.76 L283.53,572.72 L284.1,571.71 L284.66,570.72 L285.22,569.76 L285.79,568.83 L286.35,567.91 L286.92,567.01 L287.48,566.12 L288.05,565.25 L288.61,564.4 L289.17,563.58 L289.74,562.78 L290.3,562.01 L290.87,561.27 L291.43,560.55 L292,559.84 L292.56,559.15 L293.12,558.47 L293.69,557.81 L294.25,557.18 L294.82,556.58 L295.38,556.01 L295.95,555.48 L296.51,554.99 L297.07,554.54 L297.64,554.1 L298.2,553.67 L298.77,553.27 L299.33,552.89 L299.9,552.53 L300.46,552.19 L301.02,551.88 L301.59,551.59 L302.15,551.33 L302.72,551.08 L303.28,550.84 L303.85,550.62 L304.41,550.4 L304.97,550.2 L305.54,550.01 L306.1,549.84 L306.67,549.69 L307.23,549.56 L307.8,549.44 L308.36,549.33 L308.92,549.23 L309.49,549.13 L310.05,549.04 L310.62,548.96 L311.18,548.88 L311.75,548.8 L312.31,548.73 L312.87,548.66 L313.44,548.59 L314,548.53 L314.57,548.46 L315.13,548.41 L315.7,548.35 L316.26,548.29 L316.82,548.24 L317.39,548.18 L317.95,548.13 L318.52,548.08 L319.08,548.03 L319.65,547.98 L320.21,547.94 L320.77,547.89 L321.34,547.85 L321.9,547.81 L322.47,547.78 L323.03,547.75 L323.6,547.72 L324.16,547.69 L324.72,547.67 L325.29,547.64 L325.85,547.62 L326.42,547.6 L326.98,547.58 L327.55,547.56 L328.11,547.54 L328.67,547.52 L329.24,547.51 L329.8,547.5 L330.37,547.5 L330.93,547.5 L331.5,547.5 L332.06,547.51 L332.63,547.52 L333.19,547.54 L333.75,547.56 L334.32,547.58 L334.88,547.6 L335.45,547.62 L336.01,547.64 L336.58,547.67 L337.14,547.69 L337.7,547.72 L338.27,547.75 L338.83,547.78 L339.4,547.81 L339.96,547.85 L340.53,547.89 L341.09,547.94 L341.65,547.98 L342.22,548.03 L342.78,548.08 L343.35,548.13 L343.91,548.18 L344.48,548.24 L345.04,548.29 L345.6,548.35 L346.17,548.41 L346.73,548.46 L347.3,548.53 L347.86,548.59 L348.43,548.66 L348.99,548.73 L349.55,548.8 L350.12,548.88 L350.68,548.96 L351.25,549.04 L351.81,549.13 L352.38,549.23 L352.94,549.33 L353.5,549.44 L354.07,549.56 L354.63,549.69 L355.2,549.84 L355.76,550.01 L356.33,550.2 L356.89,550.4 L357.45,550.62 L358.02,550.84 L358.58,551.08 L359.15,551.33 L359.71,551.59 L360.28,551.88 L360.84,552.19 L361.4,552.53 L361.97,552.89 L362.53,553.27 L363.1,553.67 L363.66,554.1 L364.23,554.54 L364.79,554.99 L365.35,555.48 L365.92,556.01 L366.48,556.58 L367.05,557.18 L367.61,557.81 L368.18,558.47 L368.74,559.15 L369.3,559.84 L369.87,560.55 L370.43,561.27 L371,562.01 L371.56,562.78 L372.13,563.58 L372.69,564.4 L373.25,565.25 L373.82,566.12 L374.38,567.01 L374.95,567.91 L375.51,568.83 L376.08,569.76 L376.64,570.72 L377.2,571.71 L377.77,572.72 L378.33,573.76 L378.9,574.82 L379.46,575.88 L380.03,576.96 L380.59,578.04 L381.15,579.12 L381.72,580.2 L382.28,581.29 L382.85,582.38 L383.41,583.48 L383.98,584.59 L384.54,585.71 L385.1,586.85 L385.67,588.01 L386.23,589.19 L386.8,590.39 L387.36,591.63 L387.93,592.91 L388.49,594.22 L389.05,595.55 L389.62,596.89 L390.18,598.25 L390.75,599.61 L391.31,600.96 L391.88,602.3 L392.44,603.63 L393,604.97 L393.57,606.32 L394.13,607.69 L394.7,609.05 L395.26,610.4 L395.83,611.73 L396.39,613.04 L396.95,614.3 L397.52,615.52 L398.08,616.68 L398.65,617.84 L399.21,619 L399.78,620.14 L400.34,621.25 L400.9,622.32 L401.47,623.34 L402.03,624.31 L402.6,625.2 L403.16,626.01 L403.73,626.76 L404.29,627.49 L404.85,628.19 L405.42,628.86 L405.98,629.49 L406.55,630.09 L407.11,630.63 L407.68,631.12 L408.24,631.54 L408.8,631.9 L409.37,632.23 L409.93,632.55 L410.5,632.86 L411.06,633.15 L411.63,633.4 L412.19,633.61 L412.75,633.77 L413.32,633.87 L413.88,633.9 L414.45,633.9 L415.01,633.89 L415.58,633.88 L416.14,633.87 L416.7,633.85 L417.27,633.84 L417.83,633.82 L418.4,633.8 L418.96,633.75 L419.53,633.68 L420.09,633.59 L420.65,633.48 L421.22,633.37 L421.78,633.24 L422.35,633.12 L422.91,633.01 L423.48,632.9 L424.04,632.8 L424.6,632.69 L425.17,632.57 L425.73,632.45 L426.3,632.33 L426.86,632.21 L427.43,632.09 L427.99,631.98 L428.55,631.89 L429.12,631.81 L429.68,631.75 L430.25,631.71 L430.81,631.7 L431.38,631.71 L431.94,631.72 L432.51,631.75 L433.07,631.78 L433.63,631.82 L434.2,631.87 L434.76,631.93 L435.33,631.98 L435.89,632.04 L436.46,632.11 L437.02,632.17 L437.58,632.24 L438.15,632.3 L438.71,632.36 L439.28,632.42 L439.84,632.48 L440.41,632.53 L440.97,632.58 L441.53,632.62 L442.1,632.65 L442.66,632.69 L443.23,632.73 L443.79,632.76 L444.36,632.79 L444.92,632.83 L445.48,632.86 L446.05,632.89 L446.61,632.93 L447.18,632.96 L447.74,632.99 L448.31,633.02 L448.87,633.05 L449.43,633.08 L450,633.11 L450.56,633.14 L451.13,633.17 L451.69,633.19 L452.26,633.22 L452.82,633.25 L453.38,633.28 L453.95,633.31 L454.51,633.33 L455.08,633.36 L455.64,633.39 L456.21,633.41 L456.77,633.44 L457.33,633.47 L457.9,633.5 L458.46,633.52 L459.03,633.55 L459.59,633.58 L460.16,633.6 L460.72,633.63 L461.28,633.65 L461.85,633.68 L462.41,633.71 L462.98,633.73 L463.54,633.76 L464.11,633.78 L464.67,633.81 L465.23,633.83 L465.8,633.86 L466.36,633.88 L466.93,633.91 L467.49,633.93 L468.06,633.95 L468.62,633.98 L469.18,634 L469.75,634.03 L470.31,634.05 L470.88,634.07 L471.44,634.1 L472.01,634.12 L472.57,634.15 L473.13,634.17 L473.7,634.19 L474.26,634.21 L474.83,634.24 L475.39,634.26 L475.96,634.28 L476.52,634.31 L477.08,634.33 L477.65,634.35 L478.21,634.38 L478.78,634.4 L479.34,634.42 L479.91,634.44 L480.47,634.47 L481.03,634.49 L481.6,634.51 L482.16,634.53 L482.73,634.56 L483.29,634.58 L483.86,634.6 L484.42,634.62 L484.98,634.65 L485.55,634.67 L486.11,634.69 L486.68,634.71 L487.24,634.74 L487.81,634.76 L488.37,634.78 L488.93,634.8 L489.5,634.83 L490.06,634.85 L490.63,634.87 L491.19,634.9 L491.76,634.92 L492.32,634.94 L492.88,634.96 L493.45,634.99 L494.01,635.01 L494.58,635.03 L495.14,635.05 L495.71,635.08 L496.27,635.1 L496.83,635.12 L497.4,635.15 L497.96,635.17 L498.53,635.19 L499.09,635.21 L499.66,635.24 L500.22,635.26 L500.78,635.28 L501.35,635.3 L501.91,635.33 L502.48,635.35 L503.04,635.37 L503.61,635.39 L504.17,635.41 L504.73,635.44 L505.3,635.46 L505.86,635.48 L506.43,635.5 L506.99,635.53 L507.56,635.55 L508.12,635.57 L508.68,635.59 L509.25,635.61 L509.81,635.64 L510.38,635.66 L510.94,635.68 L511.51,635.7 L512.07,635.72 L512.63,635.74 L513.2,635.77 L513.76,635.79 L514.33,635.81 L514.89,635.83 L515.46,635.85 L516.02,635.88 L516.58,635.9 L517.15,635.92 L517.71,635.94 L518.28,635.96 L518.84,635.98 L519.41,636 L519.97,636.03 L520.53,636.05 L521.1,636.07 L521.66,636.09 L522.23,636.11 L522.79,636.13 L523.36,636.15 L523.92,636.17 L524.48,636.2 L525.05,636.22 L525.61,636.24 L526.18,636.26 L526.74,636.28 L527.31,636.3 L527.87,636.32 L528.43,636.35 L529,636.37 L529.56,636.39 L530.13,636.41 L530.69,636.43 L531.26,636.45 L531.82,636.48 L532.38,636.5 L532.95,636.52 L533.51,636.54 L534.08,636.56 L534.64,636.59 L535.21,636.61 L535.77,636.63 L536.34,636.65 L536.9,636.67 L537.46,636.69 L538.03,636.72 L538.59,636.74 L539.16,636.76 L539.72,636.78 L540.29,636.8 L540.85,636.82 L541.41,636.85 L541.98,636.87 L542.54,636.89 L543.11,636.91 L543.67,636.93 L544.24,636.95 L544.8,636.97 L545.36,636.99 L545.93,637.01 L546.49,637.03 L547.06,637.05 L547.62,637.07 L548.19,637.09 L548.75,637.11 L549.31,637.13 L549.88,637.15 L550.44,637.17 L551.01,637.19 L551.57,637.21 L552.14,637.22 L552.7,637.24 L553.26,637.26 L553.83,637.28 L554.39,637.29 L554.96,637.31 L555.52,637.33 L556.09,637.35 L556.65,637.36 L557.21,637.38 L557.78,637.39 L558.34,637.41 L558.91,637.42 L559.47,637.44 L560.04,637.46 L560.6,637.47 L561.16,637.49 L561.73,637.5 L562.29,637.52 L562.86,637.53 L563.42,637.55 L563.99,637.56 L564.55,637.57 L565.11,637.59 L565.68,637.6 L566.24,637.62 L566.81,637.63 L567.37,637.65 L567.94,637.66 L568.5,637.67 L569.06,637.69 L569.63,637.7 L570.19,637.71 L570.76,637.73 L571.32,637.74 L571.89,637.75 L572.45,637.76 L573.01,637.78 L573.58,637.79 L574.14,637.8 L574.71,637.81 L575.27,637.83 L575.84,637.84 L576.4,637.85 L576.96,637.86 L577.53,637.87 L578.09,637.88 L578.66,637.9 L579.22,637.91 L579.79,637.92 L580.35,637.93 L580.91,637.94 L581.48,637.95 L582.04,637.96 L582.61,637.97 L583.17,637.98 L583.74,637.99 L584.3,638" fill="none" stroke="#111" stroke-width="3" stroke-linecap="round" stroke-linejoin="round"/>
<path d="M77,711.3 L77.56,711.31 L78.13,711.32 L78.69,711.32 L79.26,711.33 L79.82,711.34 L80.39,711.35 L80.95,711.35 L81.51,711.36 L82.08,711.37 L82.64,711.38 L83.21,711.38 L83.77,711.39 L84.34,711.4 L84.9,711.41 L85.46,711.42 L86.03,711.43 L86.59,711.43 L87.16,711.44 L87.72,711.45 L88.29,711.46 L88.85,711.47 L89.41,711.48 L89.98,711.48 L90.54,711.49 L91.11,711.5 L91.67,711.51 L92.24,711.52 L92.8,711.53 L93.36,711.54 L93.93,711.54 L94.49,711.55 L95.06,711.56 L95.62,711.57 L96.19,711.58 L96.75,711.59 L97.31,711.6 L97.88,711.61 L98.44,711.62 L99.01,711.63 L99.57,711.64 L100.14,711.65 L100.7,711.66 L101.26,711.66 L101.83,711.67 L102.39,711.68 L102.96,711.69 L103.52,711.7 L104.09,711.71 L104.65,711.72 L105.21,711.73 L105.78,711.74 L106.34,711.75 L106.91,711.76 L107.47,711.77 L108.04,711.78 L108.6,711.8 L109.16,711.81 L109.73,711.82 L110.29,711.83 L110.86,711.84 L111.42,711.85 L111.99,711.86 L112.55,711.87 L113.11,711.88 L113.68,711.89 L114.24,711.9 L114.81,711.91 L115.37,711.92 L115.94,711.94 L116.5,711.95 L117.06,711.96 L117.63,711.97 L118.19,711.98 L118.76,711.99 L119.32,712 L119.89,712.02 L120.45,712.03 L121.01,712.04 L121.58,712.05 L122.14,712.06 L122.71,712.08 L123.27,712.09 L123.84,712.1 L124.4,712.11 L124.96,712.13 L125.53,712.14 L126.09,712.15 L126.66,712.16 L127.22,712.18 L127.79,712.19 L128.35,712.2 L128.92,712.21 L129.48,712.23 L130.04,712.24 L130.61,712.25 L131.17,712.27 L131.74,712.28 L132.3,712.29 L132.87,712.31 L133.43,712.32 L133.99,712.33 L134.56,712.35 L135.12,712.36 L135.69,712.37 L136.25,712.39 L136.82,712.4 L137.38,712.42 L137.94,712.43 L138.51,712.45 L139.07,712.46 L139.64,712.47 L140.2,712.49 L140.77,712.5 L141.33,712.52 L141.89,712.53 L142.46,712.55 L143.02,712.56 L143.59,712.58 L144.15,712.59 L144.72,712.61 L145.28,712.62 L145.84,712.64 L146.41,712.65 L146.97,712.67 L147.54,712.68 L148.1,712.7 L148.67,712.71 L149.23,712.73 L149.79,712.74 L150.36,712.76 L150.92,712.77 L151.49,712.79 L152.05,712.8 L152.62,712.82 L153.18,712.84 L153.74,712.85 L154.31,712.87 L154.87,712.88 L155.44,712.9 L156,712.91 L156.57,712.93 L157.13,712.95 L157.69,712.96 L158.26,712.98 L158.82,712.99 L159.39,713.01 L159.95,713.02 L160.52,713.04 L161.08,713.05 L161.64,713.07 L162.21,713.09 L162.77,713.1 L163.34,713.12 L163.9,713.13 L164.47,713.15 L165.03,713.16 L165.59,713.18 L166.16,713.2 L166.72,713.21 L167.29,713.23 L167.85,713.24 L168.42,713.26 L168.98,713.27 L169.54,713.29 L170.11,713.3 L170.67,713.32 L171.24,713.33 L171.8,713.35 L172.37,713.36 L172.93,713.38 L173.49,713.39 L174.06,713.41 L174.62,713.42 L175.19,713.44 L175.75,713.45 L176.32,713.47 L176.88,713.48 L177.44,713.5 L178.01,713.52 L178.57,713.53 L179.14,713.55 L179.7,713.56 L180.27,713.58 L180.83,713.59 L181.39,713.61 L181.96,713.62 L182.52,713.64 L183.09,713.65 L183.65,713.67 L184.22,713.69 L184.78,713.7 L185.34,713.72 L185.91,713.73 L186.47,713.75 L187.04,713.77 L187.6,713.78 L188.17,713.8 L188.73,713.82 L189.29,713.83 L189.86,713.85 L190.42,713.87 L190.99,713.88 L191.55,713.9 L192.12,713.92 L192.68,713.94 L193.24,713.95 L193.81,713.97 L194.37,713.99 L194.94,714.01 L195.5,714.03 L196.07,714.04 L196.63,714.06 L197.19,714.08 L197.76,714.1 L198.32,714.12 L198.89,714.14 L199.45,714.16 L200.02,714.18 L200.58,714.2 L201.14,714.22 L201.71,714.24 L202.27,714.26 L202.84,714.28 L203.4,714.3 L203.97,714.33 L204.53,714.35 L205.09,714.37 L205.66,714.39 L206.22,714.41 L206.79,714.43 L207.35,714.45 L207.92,714.47 L208.48,714.49 L209.04,714.51 L209.61,714.53 L210.17,714.54 L210.74,714.56 L211.3,714.57 L211.87,714.58 L212.43,714.59 L212.99,714.6 L213.56,714.61 L214.12,714.61 L214.69,714.61 L215.25,714.61 L215.82,714.61 L216.38,714.6 L216.94,714.6 L217.51,714.59 L218.07,714.57 L218.64,714.56 L219.2,714.54 L219.77,714.52 L220.33,714.49 L220.89,714.47 L221.46,714.44 L222.02,714.41 L222.59,714.37 L223.15,714.34 L223.72,714.3 L224.28,714.26 L224.84,714.21 L225.41,714.17 L225.97,714.12 L226.54,714.06 L227.1,714 L227.67,713.94 L228.23,713.86 L228.79,713.78 L229.36,713.69 L229.92,713.58 L230.49,713.47 L231.05,713.34 L231.62,713.19 L232.18,713.04 L232.75,712.86 L233.31,712.67 L233.87,712.46 L234.44,712.24 L235,712 L235.57,711.75 L236.13,711.48 L236.7,711.2 L237.26,710.91 L237.82,710.6 L238.39,710.28 L238.95,709.95 L239.52,709.61 L240.08,709.26 L240.65,708.9 L241.21,708.53 L241.77,708.14 L242.34,707.74 L242.9,707.33 L243.47,706.9 L244.03,706.46 L244.6,706.01 L245.16,705.53 L245.72,705.05 L246.29,704.54 L246.85,704.02 L247.42,703.48 L247.98,702.92 L248.55,702.35 L249.11,701.76 L249.67,701.15 L250.24,700.53 L250.8,699.88 L251.37,699.22 L251.93,698.54 L252.5,697.85 L253.06,697.14 L253.62,696.42 L254.19,695.69 L254.75,694.95 L255.32,694.2 L255.88,693.43 L256.45,692.66 L257.01,691.89 L257.57,691.11 L258.14,690.34 L258.7,689.57 L259.27,688.81 L259.83,688.05 L260.4,687.32 L260.96,686.6 L261.52,685.91 L262.09,685.24 L262.65,684.6 L263.22,683.99 L263.78,683.4 L264.35,682.84 L264.91,682.31 L265.47,681.8 L266.04,681.31 L266.6,680.86 L267.17,680.43 L267.73,680.03 L268.3,679.66 L268.86,679.31 L269.42,679.01 L269.99,678.73 L270.55,678.49 L271.12,678.29 L271.68,678.13 L272.25,678 L272.81,677.9 L273.37,677.84 L273.94,677.8 L274.5,677.8 L275.07,677.83 L275.63,677.88 L276.2,677.96 L276.76,678.06 L277.32,678.19 L277.89,678.34 L278.45,678.51 L279.02,678.71 L279.58,678.92 L280.15,679.15 L280.71,679.41 L281.27,679.68 L281.84,679.98 L282.4,680.3 L282.97,680.63 L283.53,680.99 L284.1,681.37 L284.66,681.76 L285.22,682.18 L285.79,682.6 L286.35,683.04 L286.92,683.49 L287.48,683.93 L288.05,684.39 L288.61,684.83 L289.17,685.28 L289.74,685.72 L290.3,686.15 L290.87,686.58 L291.43,686.99 L292,687.41 L292.56,687.81 L293.12,688.21 L293.69,688.61 L294.25,689 L294.82,689.38 L295.38,689.76 L295.95,690.13 L296.51,690.49 L297.07,690.83 L297.64,691.16 L298.2,691.47 L298.77,691.77 L299.33,692.04 L299.9,692.28 L300.46,692.5 L301.02,692.69 L301.59,692.85 L302.15,692.99 L302.72,693.11 L303.28,693.21 L303.85,693.3 L304.41,693.37 L304.97,693.43 L305.54,693.49 L306.1,693.53 L306.67,693.58 L307.23,693.62 L307.8,693.65 L308.36,693.68 L308.92,693.71 L309.49,693.74 L310.05,693.77 L310.62,693.79 L311.18,693.82 L311.75,693.84 L312.31,693.87 L312.87,693.89 L313.44,693.92 L314,693.95 L314.57,693.98 L315.13,694.01 L315.7,694.05 L316.26,694.08 L316.82,694.11 L317.39,694.15 L317.95,694.18 L318.52,694.21 L319.08,694.24 L319.65,694.27 L320.21,694.3 L320.77,694.32 L321.34,694.34 L321.9,694.37 L322.47,694.38 L323.03,694.4 L323.6,694.42 L324.16,694.43 L324.72,694.44 L325.29,694.46 L325.85,694.47 L326.42,694.47 L326.98,694.48 L327.55,694.49 L328.11,694.49 L328.67,694.49 L329.24,694.5 L329.8,694.5 L330.37,694.5 L330.93,694.5 L331.5,694.5 L332.06,694.5 L332.63,694.49 L333.19,694.49 L333.75,694.49 L334.32,694.48 L334.88,694.47 L335.45,694.47 L336.01,694.46 L336.58,694.44 L337.14,694.43 L337.7,694.42 L338.27,694.4 L338.83,694.38 L339.4,694.37 L339.96,694.34 L340.53,694.32 L341.09,694.3 L341.65,694.27 L342.22,694.24 L342.78,694.21 L343.35,694.18 L343.91,694.15 L344.48,694.11 L345.04,694.08 L345.6,694.05 L346.17,694.01 L346.73,693.98 L347.3,693.95 L347.86,693.92 L348.43,693.89 L348.99,693.87 L349.55,693.84 L350.12,693.82 L350.68,693.79 L351.25,693.77 L351.81,693.74 L352.38,693.71 L352.94,693.68 L353.5,693.65 L354.07,693.62 L354.63,693.58 L355.2,693.53 L355.76,693.49 L356.33,693.43 L356.89,693.37 L357.45,693.3 L358.02,693.21 L358.58,693.11 L359.15,692.99 L359.71,692.85 L360.28,692.69 L360.84,692.5 L361.4,692.28 L361.97,692.04 L362.53,691.77 L363.1,691.47 L363.66,691.16 L364.23,690.83 L364.79,690.49 L365.35,690.13 L365.92,689.76 L366.48,689.38 L367.05,689 L367.61,688.61 L368.18,688.21 L368.74,687.81 L369.3,687.41 L369.87,686.99 L370.43,686.58 L371,686.15 L371.56,685.72 L372.13,685.28 L372.69,684.83 L373.25,684.39 L373.82,683.93 L374.38,683.49 L374.95,683.04 L375.51,682.6 L376.08,682.18 L376.64,681.76 L377.2,681.37 L377.77,680.99 L378.33,680.63 L378.9,680.3 L379.46,679.98 L380.03,679.68 L380.59,679.41 L381.15,679.15 L381.72,678.92 L382.28,678.71 L382.85,678.51 L383.41,678.34 L383.98,678.19 L384.54,678.06 L385.1,677.96 L385.67,677.88 L386.23,677.83 L386.8,677.8 L387.36,677.8 L387.93,677.84 L388.49,677.9 L389.05,678 L389.62,678.13 L390.18,678.29 L390.75,678.49 L391.31,678.73 L391.88,679.01 L392.44,679.31 L393,679.66 L393.57,680.03 L394.13,680.43 L394.7,680.86 L395.26,681.31 L395.83,681.8 L396.39,682.31 L396.95,682.84 L397.52,683.4 L398.08,683.99 L398.65,684.6 L399.21,685.24 L399.78,685.91 L400.34,686.6 L400.9,687.32 L401.47,688.05 L402.03,688.81 L402.6,689.57 L403.16,690.34 L403.73,691.11 L404.29,691.89 L404.85,692.66 L405.42,693.43 L405.98,694.2 L406.55,694.95 L407.11,695.69 L407.68,696.42 L408.24,697.14 L408.8,697.85 L409.37,698.54 L409.93,699.22 L410.5,699.88 L411.06,700.53 L411.63,701.15 L412.19,701.76 L412.75,702.35 L413.32,702.92 L413.88,703.48 L414.45,704.02 L415.01,704.54 L415.58,705.05 L416.14,705.53 L416.7,706.01 L417.27,706.46 L417.83,706.9 L418.4,707.33 L418.96,707.74 L419.53,708.14 L420.09,708.53 L420.65,708.9 L421.22,709.26 L421.78,709.61 L422.35,709.95 L422.91,710.28 L423.48,710.6 L424.04,710.91 L424.6,711.2 L425.17,711.48 L425.73,711.75 L426.3,712 L426.86,712.24 L427.43,712.46 L427.99,712.67 L428.55,712.86 L429.12,713.04 L429.68,713.19 L430.25,713.34 L430.81,713.47 L431.38,713.58 L431.94,713.69 L432.51,713.78 L433.07,713.86 L433.63,713.94 L434.2,714 L434.76,714.06 L435.33,714.12 L435.89,714.17 L436.46,714.21 L437.02,714.26 L437.58,714.3 L438.15,714.34 L438.71,714.37 L439.28,714.41 L439.84,714.44 L440.41,714.47 L440.97,714.49 L441.53,714.52 L442.1,714.54 L442.66,714.56 L443.23,714.57 L443.79,714.59 L444.36,714.6 L444.92,714.6 L445.48,714.61 L446.05,714.61 L446.61,714.61 L447.18,714.61 L447.74,714.61 L448.31,714.6 L448.87,714.59 L449.43,714.58 L450,714.57 L450.56,714.56 L451.13,714.54 L451.69,714.53 L452.26,714.51 L452.82,714.49 L453.38,714.47 L453.95,714.45 L454.51,714.43 L455.08,714.41 L455.64,714.39 L456.21,714.37 L456.77,714.35 L457.33,714.33 L457.9,714.3 L458.46,714.28 L459.03,714.26 L459.59,714.24 L460.16,714.22 L460.72,714.2 L461.28,714.18 L461.85,714.16 L462.41,714.14 L462.98,714.12 L463.54,714.1 L464.11,714.08 L464.67,714.06 L465.23,714.04 L465.8,714.03 L466.36,714.01 L466.93,713.99 L467.49,713.97 L468.06,713.95 L468.62,713.94 L469.18,713.92 L469.75,713.9 L470.31,713.88 L470.88,713.87 L471.44,713.85 L472.01,713.83 L472.57,713.82 L473.13,713.8 L473.7,713.78 L474.26,713.77 L474.83,713.75 L475.39,713.73 L475.96,713.72 L476.52,713.7 L477.08,713.69 L477.65,713.67 L478.21,713.65 L478.78,713.64 L479.34,713.62 L479.91,713.61 L480.47,713.59 L481.03,713.58 L481.6,713.56 L482.16,713.55 L482.73,713.53 L483.29,713.52 L483.86,713.5 L484.42,713.48 L484.98,713.47 L485.55,713.45 L486.11,713.44 L486.68,713.42 L487.24,713.41 L487.81,713.39 L488.37,713.38 L488.93,713.36 L489.5,713.35 L490.06,713.33 L490.63,713.32 L491.19,713.3 L491.76,713.29 L492.32,713.27 L492.88,713.26 L493.45,713.24 L494.01,713.23 L494.58,713.21 L495.14,713.2 L495.71,713.18 L496.27,713.16 L496.83,713.15 L497.4,713.13 L497.96,713.12 L498.53,713.1 L499.09,713.09 L499.66,713.07 L500.22,713.05 L500.78,713.04 L501.35,713.02 L501.91,713.01 L502.48,712.99 L503.04,712.98 L503.61,712.96 L504.17,712.95 L504.73,712.93 L505.3,712.91 L505.86,712.9 L506.43,712.88 L506.99,712.87 L507.56,712.85 L508.12,712.84 L508.68,712.82 L509.25,712.8 L509.81,712.79 L510.38,712.77 L510.94,712.76 L511.51,712.74 L512.07,712.73 L512.63,712.71 L513.2,712.7 L513.76,712.68 L514.33,712.67 L514.89,712.65 L515.46,712.64 L516.02,712.62 L516.58,712.61 L517.15,712.59 L517.71,712.58 L518.28,712.56 L518.84,712.55 L519.41,712.53 L519.97,712.52 L520.53,712.5 L521.1,712.49 L521.66,712.47 L522.23,712.46 L522.79,712.45 L523.36,712.43 L523.92,712.42 L524.48,712.4 L525.05,712.39 L525.61,712.37 L526.18,712.36 L526.74,712.35 L527.31,712.33 L527.87,712.32 L528.43,712.31 L529,712.29 L529.56,712.28 L530.13,712.27 L530.69,712.25 L531.26,712.24 L531.82,712.23 L532.38,712.21 L532.95,712.2 L533.51,712.19 L534.08,712.18 L534.64,712.16 L535.21,712.15 L535.77,712.14 L536.34,712.13 L536.9,712.11 L537.46,712.1 L538.03,712.09 L538.59,712.08 L539.16,712.06 L539.72,712.05 L540.29,712.04 L540.85,712.03 L541.41,712.02 L541.98,712 L542.54,711.99 L543.11,711.98 L543.67,711.97 L544.24,711.96 L544.8,711.95 L545.36,711.94 L545.93,711.92 L546.49,711.91 L547.06,711.9 L547.62,711.89 L548.19,711.88 L548.75,711.87 L549.31,711.86 L549.88,711.85 L550.44,711.84 L551.01,711.83 L551.57,711.82 L552.14,711.81 L552.7,711.8 L553.26,711.78 L553.83,711.77 L554.39,711.76 L554.96,711.75 L555.52,711.74 L556.09,711.73 L556.65,711.72 L557.21,711.71 L557.78,711.7 L558.34,711.69 L558.91,711.68 L559.47,711.67 L560.04,711.66 L560.6,711.66 L561.16,711.65 L561.73,711.64 L562.29,711.63 L562.86,711.62 L563.42,711.61 L563.99,711.6 L564.55,711.59 L565.11,711.58 L565.68,711.57 L566.24,711.56 L566.81,711.55 L567.37,711.54 L567.94,711.54 L568.5,711.53 L569.06,711.52 L569.63,711.51 L570.19,711.5 L570.76,711.49 L571.32,711.48 L571.89,711.48 L572.45,711.47 L573.01,711.46 L573.58,711.45 L574.14,711.44 L574.71,711.43 L575.27,711.43 L575.84,711.42 L576.4,711.41 L576.96,711.4 L577.53,711.39 L578.09,711.38 L578.66,711.38 L579.22,711.37 L579.79,711.36 L580.35,711.35 L580.91,711.35 L581.48,711.34 L582.04,711.33 L582.61,711.32 L583.17,711.32 L583.74,711.31 L584.3,711.3" fill="none" stroke="#111" stroke-width="3" stroke-linecap="round" stroke-linejoin="round" stroke-dasharray="11 7.7"/>
<path d="M77,798.7 L77.56,798.7 L78.13,798.7 L78.69,798.7 L79.26,798.7 L79.82,798.7 L80.39,798.7 L80.95,798.7 L81.51,798.7 L82.08,798.7 L82.64,798.7 L83.21,798.7 L83.77,798.7 L84.34,798.7 L84.9,798.7 L85.46,798.7 L86.03,798.7 L86.59,798.7 L87.16,798.7 L87.72,798.7 L88.29,798.7 L88.85,798.7 L89.41,798.7 L89.98,798.7 L90.54,798.7 L91.11,798.7 L91.67,798.7 L92.24,798.7 L92.8,798.7 L93.36,798.7 L93.93,798.7 L94.49,798.7 L95.06,798.7 L95.62,798.7 L96.19,798.7 L96.75,798.7 L97.31,798.7 L97.88,798.7 L98.44,798.7 L99.01,798.7 L99.57,798.7 L100.14,798.7 L100.7,798.7 L101.26,798.7 L101.83,798.7 L102.39,798.7 L102.96,798.7 L103.52,798.7 L104.09,798.7 L104.65,798.7 L105.21,798.7 L105.78,798.7 L106.34,798.7 L106.91,798.7 L107.47,798.7 L108.04,798.7 L108.6,798.7 L109.16,798.7 L109.73,798.7 L110.29,798.7 L110.86,798.7 L111.42,798.7 L111.99,798.7 L112.55,798.7 L113.11,798.7 L113.68,798.7 L114.24,798.7 L114.81,798.7 L115.37,798.7 L115.94,798.7 L116.5,798.7 L117.06,798.7 L117.63,798.7 L118.19,798.7 L118.76,798.7 L119.32,798.7 L119.89,798.7 L120.45,798.7 L121.01,798.7 L121.58,798.7 L122.14,798.7 L122.71,798.7 L123.27,798.7 L123.84,798.7 L124.4,798.7 L124.96,798.7 L125.53,798.7 L126.09,798.7 L126.66,798.7 L127.22,798.7 L127.79,798.7 L128.35,798.7 L128.92,798.7 L129.48,798.7 L130.04,798.7 L130.61,798.7 L131.17,798.7 L131.74,798.7 L132.3,798.7 L132.87,798.7 L133.43,798.7 L133.99,798.7 L134.56,798.7 L135.12,798.7 L135.69,798.7 L136.25,798.7 L136.82,798.7 L137.38,798.7 L137.94,798.7 L138.51,798.7 L139.07,798.7 L139.64,798.7 L140.2,798.7 L140.77,798.7 L141.33,798.7 L141.89,798.7 L142.46,798.7 L143.02,798.7 L143.59,798.7 L144.15,798.7 L144.72,798.7 L145.28,798.7 L145.84,798.7 L146.41,798.7 L146.97,798.7 L147.54,798.7 L148.1,798.7 L148.67,798.7 L149.23,798.7 L149.79,798.7 L150.36,798.7 L150.92,798.7 L151.49,798.7 L152.05,798.7 L152.62,798.7 L153.18,798.7 L153.74,798.7 L154.31,798.7 L154.87,798.7 L155.44,798.7 L156,798.7 L156.57,798.7 L157.13,798.7 L157.69,798.7 L158.26,798.7 L158.82,798.69 L159.39,798.69 L159.95,798.69 L160.52,798.69 L161.08,798.69 L161.64,798.69 L162.21,798.69 L162.77,798.69 L163.34,798.69 L163.9,798.69 L164.47,798.69 L165.03,798.69 L165.59,798.69 L166.16,798.68 L166.72,798.68 L167.29,798.68 L167.85,798.68 L168.42,798.68 L168.98,798.68 L169.54,798.68 L170.11,798.68 L170.67,798.68 L171.24,798.67 L171.8,798.67 L172.37,798.67 L172.93,798.67 L173.49,798.67 L174.06,798.67 L174.62,798.67 L175.19,798.67 L175.75,798.67 L176.32,798.66 L176.88,798.66 L177.44,798.66 L178.01,798.66 L178.57,798.66 L179.14,798.66 L179.7,798.66 L180.27,798.66 L180.83,798.65 L181.39,798.65 L181.96,798.65 L182.52,798.65 L183.09,798.65 L183.65,798.65 L184.22,798.65 L184.78,798.64 L185.34,798.64 L185.91,798.64 L186.47,798.64 L187.04,798.64 L187.6,798.64 L188.17,798.64 L188.73,798.64 L189.29,798.63 L189.86,798.63 L190.42,798.63 L190.99,798.63 L191.55,798.63 L192.12,798.63 L192.68,798.63 L193.24,798.63 L193.81,798.62 L194.37,798.62 L194.94,798.62 L195.5,798.62 L196.07,798.62 L196.63,798.62 L197.19,798.62 L197.76,798.62 L198.32,798.62 L198.89,798.62 L199.45,798.61 L200.02,798.61 L200.58,798.61 L201.14,798.61 L201.71,798.61 L202.27,798.61 L202.84,798.61 L203.4,798.61 L203.97,798.61 L204.53,798.61 L205.09,798.61 L205.66,798.61 L206.22,798.6 L206.79,798.6 L207.35,798.6 L207.92,798.6 L208.48,798.6 L209.04,798.6 L209.61,798.6 L210.17,798.6 L210.74,798.6 L211.3,798.6 L211.87,798.6 L212.43,798.6 L212.99,798.6 L213.56,798.6 L214.12,798.6 L214.69,798.6 L215.25,798.6 L215.82,798.6 L216.38,798.6 L216.94,798.6 L217.51,798.6 L218.07,798.6 L218.64,798.6 L219.2,798.6 L219.77,798.6 L220.33,798.6 L220.89,798.6 L221.46,798.6 L222.02,798.6 L222.59,798.6 L223.15,798.6 L223.72,798.6 L224.28,798.6 L224.84,798.6 L225.41,798.6 L225.97,798.6 L226.54,798.6 L227.1,798.6 L227.67,798.6 L228.23,798.6 L228.79,798.6 L229.36,798.6 L229.92,798.6 L230.49,798.6 L231.05,798.6 L231.62,798.61 L232.18,798.63 L232.75,798.67 L233.31,798.72 L233.87,798.77 L234.44,798.84 L235,798.92 L235.57,799 L236.13,799.09 L236.7,799.18 L237.26,799.27 L237.82,799.37 L238.39,799.47 L238.95,799.57 L239.52,799.66 L240.08,799.76 L240.65,799.85 L241.21,799.93 L241.77,800.02 L242.34,800.12 L242.9,800.23 L243.47,800.33 L244.03,800.44 L244.6,800.54 L245.16,800.64 L245.72,800.74 L246.29,800.82 L246.85,800.88 L247.42,800.94 L247.98,801 L248.55,801.06 L249.11,801.11 L249.67,801.15 L250.24,801.18 L250.8,801.2 L251.37,801.2 L251.93,801.18 L252.5,801.15 L253.06,801.1 L253.62,801.05 L254.19,800.99 L254.75,800.93 L255.32,800.86 L255.88,800.76 L256.45,800.62 L257.01,800.47 L257.57,800.3 L258.14,800.11 L258.7,799.91 L259.27,799.7 L259.83,799.46 L260.4,799.18 L260.96,798.87 L261.52,798.54 L262.09,798.18 L262.65,797.82 L263.22,797.44 L263.78,797.05 L264.35,796.67 L264.91,796.29 L265.47,795.92 L266.04,795.56 L266.6,795.22 L267.17,794.91 L267.73,794.6 L268.3,794.3 L268.86,794.01 L269.42,793.71 L269.99,793.42 L270.55,793.14 L271.12,792.86 L271.68,792.58 L272.25,792.3 L272.81,792.03 L273.37,791.76 L273.94,791.49 L274.5,791.23 L275.07,790.97 L275.63,790.71 L276.2,790.45 L276.76,790.2 L277.32,789.94 L277.89,789.69 L278.45,789.45 L279.02,789.2 L279.58,788.96 L280.15,788.72 L280.71,788.49 L281.27,788.26 L281.84,788.04 L282.4,787.82 L282.97,787.61 L283.53,787.41 L284.1,787.2 L284.66,787 L285.22,786.8 L285.79,786.61 L286.35,786.42 L286.92,786.23 L287.48,786.05 L288.05,785.87 L288.61,785.7 L289.17,785.52 L289.74,785.36 L290.3,785.19 L290.87,785.04 L291.43,784.88 L292,784.72 L292.56,784.57 L293.12,784.41 L293.69,784.25 L294.25,784.1 L294.82,783.95 L295.38,783.81 L295.95,783.67 L296.51,783.54 L297.07,783.42 L297.64,783.31 L298.2,783.22 L298.77,783.13 L299.33,783.06 L299.9,782.99 L300.46,782.92 L301.02,782.85 L301.59,782.79 L302.15,782.73 L302.72,782.68 L303.28,782.63 L303.85,782.58 L304.41,782.53 L304.97,782.5 L305.54,782.46 L306.1,782.43 L306.67,782.41 L307.23,782.39 L307.8,782.38 L308.36,782.36 L308.92,782.35 L309.49,782.33 L310.05,782.32 L310.62,782.3 L311.18,782.29 L311.75,782.28 L312.31,782.27 L312.87,782.26 L313.44,782.25 L314,782.24 L314.57,782.23 L315.13,782.22 L315.7,782.22 L316.26,782.21 L316.82,782.21 L317.39,782.2 L317.95,782.2 L318.52,782.2 L319.08,782.2 L319.65,782.2 L320.21,782.2 L320.77,782.2 L321.34,782.2 L321.9,782.2 L322.47,782.2 L323.03,782.2 L323.6,782.2 L324.16,782.2 L324.72,782.2 L325.29,782.2 L325.85,782.2 L326.42,782.2 L326.98,782.2 L327.55,782.2 L328.11,782.2 L328.67,782.2 L329.24,782.2 L329.8,782.2 L330.37,782.2 L330.93,782.2 L331.5,782.2 L332.06,782.2 L332.63,782.2 L333.19,782.2 L333.75,782.2 L334.32,782.2 L334.88,782.2 L335.45,782.2 L336.01,782.2 L336.58,782.2 L337.14,782.2 L337.7,782.2 L338.27,782.2 L338.83,782.2 L339.4,782.2 L339.96,782.2 L340.53,782.2 L341.09,782.2 L341.65,782.2 L342.22,782.2 L342.78,782.2 L343.35,782.2 L343.91,782.2 L344.48,782.21 L345.04,782.21 L345.6,782.22 L346.17,782.22 L346.73,782.23 L347.3,782.24 L347.86,782.25 L348.43,782.26 L348.99,782.27 L349.55,782.28 L350.12,782.29 L350.68,782.3 L351.25,782.32 L351.81,782.33 L352.38,782.35 L352.94,782.36 L353.5,782.38 L354.07,782.39 L354.63,782.41 L355.2,782.43 L355.76,782.46 L356.33,782.5 L356.89,782.53 L357.45,782.58 L358.02,782.63 L358.58,782.68 L359.15,782.73 L359.71,782.79 L360.28,782.85 L360.84,782.92 L361.4,782.99 L361.97,783.06 L362.53,783.13 L363.1,783.22 L363.66,783.31 L364.23,783.42 L364.79,783.54 L365.35,783.67 L365.92,783.81 L366.48,783.95 L367.05,784.1 L367.61,784.25 L368.18,784.41 L368.74,784.57 L369.3,784.72 L369.87,784.88 L370.43,785.04 L371,785.19 L371.56,785.36 L372.13,785.52 L372.69,785.7 L373.25,785.87 L373.82,786.05 L374.38,786.23 L374.95,786.42 L375.51,786.61 L376.08,786.8 L376.64,787 L377.2,787.2 L377.77,787.41 L378.33,787.61 L378.9,787.82 L379.46,788.04 L380.03,788.26 L380.59,788.49 L381.15,788.72 L381.72,788.96 L382.28,789.2 L382.85,789.45 L383.41,789.69 L383.98,789.94 L384.54,790.2 L385.1,790.45 L385.67,790.71 L386.23,790.97 L386.8,791.23 L387.36,791.49 L387.93,791.76 L388.49,792.03 L389.05,792.3 L389.62,792.58 L390.18,792.86 L390.75,793.14 L391.31,793.42 L391.88,793.71 L392.44,794.01 L393,794.3 L393.57,794.6 L394.13,794.91 L394.7,795.22 L395.26,795.56 L395.83,795.92 L396.39,796.29 L396.95,796.67 L397.52,797.05 L398.08,797.44 L398.65,797.82 L399.21,798.18 L399.78,798.54 L400.34,798.87 L400.9,799.18 L401.47,799.46 L402.03,799.7 L402.6,799.91 L403.16,800.11 L403.73,800.3 L404.29,800.47 L404.85,800.62 L405.42,800.76 L405.98,800.86 L406.55,800.93 L407.11,800.99 L407.68,801.05 L408.24,801.1 L408.8,801.15 L409.37,801.18 L409.93,801.2 L410.5,801.2 L411.06,801.18 L411.63,801.15 L412.19,801.11 L412.75,801.06 L413.32,801 L413.88,800.94 L414.45,800.88 L415.01,800.82 L415.58,800.74 L416.14,800.64 L416.7,800.54 L417.27,800.44 L417.83,800.33 L418.4,800.23 L418.96,800.12 L419.53,800.02 L420.09,799.93 L420.65,799.85 L421.22,799.76 L421.78,799.66 L422.35,799.57 L422.91,799.47 L423.48,799.37 L424.04,799.27 L424.6,799.18 L425.17,799.09 L425.73,799 L426.3,798.92 L426.86,798.84 L427.43,798.77 L427.99,798.72 L428.55,798.67 L429.12,798.63 L429.68,798.61 L430.25,798.6 L430.81,798.6 L431.38,798.6 L431.94,798.6 L432.51,798.6 L433.07,798.6 L433.63,798.6 L434.2,798.6 L434.76,798.6 L435.33,798.6 L435.89,798.6 L436.46,798.6 L437.02,798.6 L437.58,798.6 L438.15,798.6 L438.71,798.6 L439.28,798.6 L439.84,798.6 L440.41,798.6 L440.97,798.6 L441.53,798.6 L442.1,798.6 L442.66,798.6 L443.23,798.6 L443.79,798.6 L444.36,798.6 L444.92,798.6 L445.48,798.6 L446.05,798.6 L446.61,798.6 L447.18,798.6 L447.74,798.6 L448.31,798.6 L448.87,798.6 L449.43,798.6 L450,798.6 L450.56,798.6 L451.13,798.6 L451.69,798.6 L452.26,798.6 L452.82,798.6 L453.38,798.6 L453.95,798.6 L454.51,798.6 L455.08,798.6 L455.64,798.61 L456.21,798.61 L456.77,798.61 L457.33,798.61 L457.9,798.61 L458.46,798.61 L459.03,798.61 L459.59,798.61 L460.16,798.61 L460.72,798.61 L461.28,798.61 L461.85,798.61 L462.41,798.62 L462.98,798.62 L463.54,798.62 L464.11,798.62 L464.67,798.62 L465.23,798.62 L465.8,798.62 L466.36,798.62 L466.93,798.62 L467.49,798.62 L468.06,798.63 L468.62,798.63 L469.18,798.63 L469.75,798.63 L470.31,798.63 L470.88,798.63 L471.44,798.63 L472.01,798.63 L472.57,798.64 L473.13,798.64 L473.7,798.64 L474.26,798.64 L474.83,798.64 L475.39,798.64 L475.96,798.64 L476.52,798.64 L477.08,798.65 L477.65,798.65 L478.21,798.65 L478.78,798.65 L479.34,798.65 L479.91,798.65 L480.47,798.65 L481.03,798.66 L481.6,798.66 L482.16,798.66 L482.73,798.66 L483.29,798.66 L483.86,798.66 L484.42,798.66 L484.98,798.66 L485.55,798.67 L486.11,798.67 L486.68,798.67 L487.24,798.67 L487.81,798.67 L488.37,798.67 L488.93,798.67 L489.5,798.67 L490.06,798.67 L490.63,798.68 L491.19,798.68 L491.76,798.68 L492.32,798.68 L492.88,798.68 L493.45,798.68 L494.01,798.68 L494.58,798.68 L495.14,798.68 L495.71,798.69 L496.27,798.69 L496.83,798.69 L497.4,798.69 L497.96,798.69 L498.53,798.69 L499.09,798.69 L499.66,798.69 L500.22,798.69 L500.78,798.69 L501.35,798.69 L501.91,798.69 L502.48,798.69 L503.04,798.7 L503.61,798.7 L504.17,798.7 L504.73,798.7 L505.3,798.7 L505.86,798.7 L506.43,798.7 L506.99,798.7 L507.56,798.7 L508.12,798.7 L508.68,798.7 L509.25,798.7 L509.81,798.7 L510.38,798.7 L510.94,798.7 L511.51,798.7 L512.07,798.7 L512.63,798.7 L513.2,798.7 L513.76,798.7 L514.33,798.7 L514.89,798.7 L515.46,798.7 L516.02,798.7 L516.58,798.7 L517.15,798.7 L517.71,798.7 L518.28,798.7 L518.84,798.7 L519.41,798.7 L519.97,798.7 L520.53,798.7 L521.1,798.7 L521.66,798.7 L522.23,798.7 L522.79,798.7 L523.36,798.7 L523.92,798.7 L524.48,798.7 L525.05,798.7 L525.61,798.7 L526.18,798.7 L526.74,798.7 L527.31,798.7 L527.87,798.7 L528.43,798.7 L529,798.7 L529.56,798.7 L530.13,798.7 L530.69,798.7 L531.26,798.7 L531.82,798.7 L532.38,798.7 L532.95,798.7 L533.51,798.7 L534.08,798.7 L534.64,798.7 L535.21,798.7 L535.77,798.7 L536.34,798.7 L536.9,798.7 L537.46,798.7 L538.03,798.7 L538.59,798.7 L539.16,798.7 L539.72,798.7 L540.29,798.7 L540.85,798.7 L541.41,798.7 L541.98,798.7 L542.54,798.7 L543.11,798.7 L543.67,798.7 L544.24,798.7 L544.8,798.7 L545.36,798.7 L545.93,798.7 L546.49,798.7 L547.06,798.7 L547.62,798.7 L548.19,798.7 L548.75,798.7 L549.31,798.7 L549.88,798.7 L550.44,798.7 L551.01,798.7 L551.57,798.7 L552.14,798.7 L552.7,798.7 L553.26,798.7 L553.83,798.7 L554.39,798.7 L554.96,798.7 L555.52,798.7 L556.09,798.7 L556.65,798.7 L557.21,798.7 L557.78,798.7 L558.34,798.7 L558.91,798.7 L559.47,798.7 L560.04,798.7 L560.6,798.7 L561.16,798.7 L561.73,798.7 L562.29,798.7 L562.86,798.7 L563.42,798.7 L563.99,798.7 L564.55,798.7 L565.11,798.7 L565.68,798.7 L566.24,798.7 L566.81,798.7 L567.37,798.7 L567.94,798.7 L568.5,798.7 L569.06,798.7 L569.63,798.7 L570.19,798.7 L570.76,798.7 L571.32,798.7 L571.89,798.7 L572.45,798.7 L573.01,798.7 L573.58,798.7 L574.14,798.7 L574.71,798.7 L575.27,798.7 L575.84,798.7 L576.4,798.7 L576.96,798.7 L577.53,798.7 L578.09,798.7 L578.66,798.7 L579.22,798.7 L579.79,798.7 L580.35,798.7 L580.91,798.7 L581.48,798.7 L582.04,798.7 L582.61,798.7 L583.17,798.7 L583.74,798.7 L584.3,798.7" fill="none" stroke="#111" stroke-width="2.9" stroke-linecap="round" stroke-linejoin="round" stroke-dasharray="7.6 4.9 0 4.6 0 4.9"/>
<rect x="77" y="452" width="507.3" height="379.8" fill="none" stroke="#111" stroke-width="1.6"/>
<line x1="77" y1="518.37" x2="80.8" y2="518.37" stroke="#111" stroke-width="1.2" />
<line x1="584.3" y1="518.37" x2="580.5" y2="518.37" stroke="#111" stroke-width="1.2" />
<line x1="77" y1="501.65" x2="80.8" y2="501.65" stroke="#111" stroke-width="1.2" />
<line x1="584.3" y1="501.65" x2="580.5" y2="501.65" stroke="#111" stroke-width="1.2" />
<line x1="77" y1="489.78" x2="80.8" y2="489.78" stroke="#111" stroke-width="1.2" />
<line x1="584.3" y1="489.78" x2="580.5" y2="489.78" stroke="#111" stroke-width="1.2" />
<line x1="77" y1="480.58" x2="80.8" y2="480.58" stroke="#111" stroke-width="1.2" />
<line x1="584.3" y1="480.58" x2="580.5" y2="480.58" stroke="#111" stroke-width="1.2" />
<line x1="77" y1="473.06" x2="80.8" y2="473.06" stroke="#111" stroke-width="1.2" />
<line x1="584.3" y1="473.06" x2="580.5" y2="473.06" stroke="#111" stroke-width="1.2" />
<line x1="77" y1="466.71" x2="80.8" y2="466.71" stroke="#111" stroke-width="1.2" />
<line x1="584.3" y1="466.71" x2="580.5" y2="466.71" stroke="#111" stroke-width="1.2" />
<line x1="77" y1="461.2" x2="80.8" y2="461.2" stroke="#111" stroke-width="1.2" />
<line x1="584.3" y1="461.2" x2="580.5" y2="461.2" stroke="#111" stroke-width="1.2" />
<line x1="77" y1="456.34" x2="80.8" y2="456.34" stroke="#111" stroke-width="1.2" />
<line x1="584.3" y1="456.34" x2="580.5" y2="456.34" stroke="#111" stroke-width="1.2" />
<line x1="77" y1="546.95" x2="82.7" y2="546.95" stroke="#111" stroke-width="1.2" />
<line x1="584.3" y1="546.95" x2="578.6" y2="546.95" stroke="#111" stroke-width="1.2" />
<line x1="77" y1="613.32" x2="80.8" y2="613.32" stroke="#111" stroke-width="1.2" />
<line x1="584.3" y1="613.32" x2="580.5" y2="613.32" stroke="#111" stroke-width="1.2" />
<line x1="77" y1="596.6" x2="80.8" y2="596.6" stroke="#111" stroke-width="1.2" />
<line x1="584.3" y1="596.6" x2="580.5" y2="596.6" stroke="#111" stroke-width="1.2" />
<line x1="77" y1="584.73" x2="80.8" y2="584.73" stroke="#111" stroke-width="1.2" />
<line x1="584.3" y1="584.73" x2="580.5" y2="584.73" stroke="#111" stroke-width="1.2" />
<line x1="77" y1="575.53" x2="80.8" y2="575.53" stroke="#111" stroke-width="1.2" />
<line x1="584.3" y1="575.53" x2="580.5" y2="575.53" stroke="#111" stroke-width="1.2" />
<line x1="77" y1="568.01" x2="80.8" y2="568.01" stroke="#111" stroke-width="1.2" />
<line x1="584.3" y1="568.01" x2="580.5" y2="568.01" stroke="#111" stroke-width="1.2" />
<line x1="77" y1="561.66" x2="80.8" y2="561.66" stroke="#111" stroke-width="1.2" />
<line x1="584.3" y1="561.66" x2="580.5" y2="561.66" stroke="#111" stroke-width="1.2" />
<line x1="77" y1="556.15" x2="80.8" y2="556.15" stroke="#111" stroke-width="1.2" />
<line x1="584.3" y1="556.15" x2="580.5" y2="556.15" stroke="#111" stroke-width="1.2" />
<line x1="77" y1="551.29" x2="80.8" y2="551.29" stroke="#111" stroke-width="1.2" />
<line x1="584.3" y1="551.29" x2="580.5" y2="551.29" stroke="#111" stroke-width="1.2" />
<line x1="77" y1="641.9" x2="82.7" y2="641.9" stroke="#111" stroke-width="1.2" />
<line x1="584.3" y1="641.9" x2="578.6" y2="641.9" stroke="#111" stroke-width="1.2" />
<line x1="77" y1="708.27" x2="80.8" y2="708.27" stroke="#111" stroke-width="1.2" />
<line x1="584.3" y1="708.27" x2="580.5" y2="708.27" stroke="#111" stroke-width="1.2" />
<line x1="77" y1="691.55" x2="80.8" y2="691.55" stroke="#111" stroke-width="1.2" />
<line x1="584.3" y1="691.55" x2="580.5" y2="691.55" stroke="#111" stroke-width="1.2" />
<line x1="77" y1="679.68" x2="80.8" y2="679.68" stroke="#111" stroke-width="1.2" />
<line x1="584.3" y1="679.68" x2="580.5" y2="679.68" stroke="#111" stroke-width="1.2" />
<line x1="77" y1="670.48" x2="80.8" y2="670.48" stroke="#111" stroke-width="1.2" />
<line x1="584.3" y1="670.48" x2="580.5" y2="670.48" stroke="#111" stroke-width="1.2" />
<line x1="77" y1="662.96" x2="80.8" y2="662.96" stroke="#111" stroke-width="1.2" />
<line x1="584.3" y1="662.96" x2="580.5" y2="662.96" stroke="#111" stroke-width="1.2" />
<line x1="77" y1="656.61" x2="80.8" y2="656.61" stroke="#111" stroke-width="1.2" />
<line x1="584.3" y1="656.61" x2="580.5" y2="656.61" stroke="#111" stroke-width="1.2" />
<line x1="77" y1="651.1" x2="80.8" y2="651.1" stroke="#111" stroke-width="1.2" />
<line x1="584.3" y1="651.1" x2="580.5" y2="651.1" stroke="#111" stroke-width="1.2" />
<line x1="77" y1="646.24" x2="80.8" y2="646.24" stroke="#111" stroke-width="1.2" />
<line x1="584.3" y1="646.24" x2="580.5" y2="646.24" stroke="#111" stroke-width="1.2" />
<line x1="77" y1="736.85" x2="82.7" y2="736.85" stroke="#111" stroke-width="1.2" />
<line x1="584.3" y1="736.85" x2="578.6" y2="736.85" stroke="#111" stroke-width="1.2" />
<line x1="77" y1="803.22" x2="80.8" y2="803.22" stroke="#111" stroke-width="1.2" />
<line x1="584.3" y1="803.22" x2="580.5" y2="803.22" stroke="#111" stroke-width="1.2" />
<line x1="77" y1="786.5" x2="80.8" y2="786.5" stroke="#111" stroke-width="1.2" />
<line x1="584.3" y1="786.5" x2="580.5" y2="786.5" stroke="#111" stroke-width="1.2" />
<line x1="77" y1="774.63" x2="80.8" y2="774.63" stroke="#111" stroke-width="1.2" />
<line x1="584.3" y1="774.63" x2="580.5" y2="774.63" stroke="#111" stroke-width="1.2" />
<line x1="77" y1="765.43" x2="80.8" y2="765.43" stroke="#111" stroke-width="1.2" />
<line x1="584.3" y1="765.43" x2="580.5" y2="765.43" stroke="#111" stroke-width="1.2" />
<line x1="77" y1="757.91" x2="80.8" y2="757.91" stroke="#111" stroke-width="1.2" />
<line x1="584.3" y1="757.91" x2="580.5" y2="757.91" stroke="#111" stroke-width="1.2" />
<line x1="77" y1="751.56" x2="80.8" y2="751.56" stroke="#111" stroke-width="1.2" />
<line x1="584.3" y1="751.56" x2="580.5" y2="751.56" stroke="#111" stroke-width="1.2" />
<line x1="77" y1="746.05" x2="80.8" y2="746.05" stroke="#111" stroke-width="1.2" />
<line x1="584.3" y1="746.05" x2="580.5" y2="746.05" stroke="#111" stroke-width="1.2" />
<line x1="77" y1="741.19" x2="80.8" y2="741.19" stroke="#111" stroke-width="1.2" />
<line x1="584.3" y1="741.19" x2="580.5" y2="741.19" stroke="#111" stroke-width="1.2" />
<line x1="105.18" y1="831.8" x2="105.18" y2="827.6" stroke="#111" stroke-width="1.3" />
<line x1="105.18" y1="452" x2="105.18" y2="456.2" stroke="#111" stroke-width="1.3" />
<line x1="133.37" y1="831.8" x2="133.37" y2="827.6" stroke="#111" stroke-width="1.3" />
<line x1="133.37" y1="452" x2="133.37" y2="456.2" stroke="#111" stroke-width="1.3" />
<line x1="161.55" y1="831.8" x2="161.55" y2="824.8" stroke="#111" stroke-width="1.3" />
<line x1="161.55" y1="452" x2="161.55" y2="459" stroke="#111" stroke-width="1.3" />
<line x1="189.73" y1="831.8" x2="189.73" y2="827.6" stroke="#111" stroke-width="1.3" />
<line x1="189.73" y1="452" x2="189.73" y2="456.2" stroke="#111" stroke-width="1.3" />
<line x1="217.92" y1="831.8" x2="217.92" y2="827.6" stroke="#111" stroke-width="1.3" />
<line x1="217.92" y1="452" x2="217.92" y2="456.2" stroke="#111" stroke-width="1.3" />
<line x1="246.1" y1="831.8" x2="246.1" y2="824.8" stroke="#111" stroke-width="1.3" />
<line x1="246.1" y1="452" x2="246.1" y2="459" stroke="#111" stroke-width="1.3" />
<line x1="274.28" y1="831.8" x2="274.28" y2="827.6" stroke="#111" stroke-width="1.3" />
<line x1="274.28" y1="452" x2="274.28" y2="456.2" stroke="#111" stroke-width="1.3" />
<line x1="302.47" y1="831.8" x2="302.47" y2="827.6" stroke="#111" stroke-width="1.3" />
<line x1="302.47" y1="452" x2="302.47" y2="456.2" stroke="#111" stroke-width="1.3" />
<line x1="330.65" y1="831.8" x2="330.65" y2="824.8" stroke="#111" stroke-width="1.3" />
<line x1="330.65" y1="452" x2="330.65" y2="459" stroke="#111" stroke-width="1.3" />
<line x1="358.83" y1="831.8" x2="358.83" y2="827.6" stroke="#111" stroke-width="1.3" />
<line x1="358.83" y1="452" x2="358.83" y2="456.2" stroke="#111" stroke-width="1.3" />
<line x1="387.02" y1="831.8" x2="387.02" y2="827.6" stroke="#111" stroke-width="1.3" />
<line x1="387.02" y1="452" x2="387.02" y2="456.2" stroke="#111" stroke-width="1.3" />
<line x1="415.2" y1="831.8" x2="415.2" y2="824.8" stroke="#111" stroke-width="1.3" />
<line x1="415.2" y1="452" x2="415.2" y2="459" stroke="#111" stroke-width="1.3" />
<line x1="443.38" y1="831.8" x2="443.38" y2="827.6" stroke="#111" stroke-width="1.3" />
<line x1="443.38" y1="452" x2="443.38" y2="456.2" stroke="#111" stroke-width="1.3" />
<line x1="471.57" y1="831.8" x2="471.57" y2="827.6" stroke="#111" stroke-width="1.3" />
<line x1="471.57" y1="452" x2="471.57" y2="456.2" stroke="#111" stroke-width="1.3" />
<line x1="499.75" y1="831.8" x2="499.75" y2="824.8" stroke="#111" stroke-width="1.3" />
<line x1="499.75" y1="452" x2="499.75" y2="459" stroke="#111" stroke-width="1.3" />
<line x1="527.93" y1="831.8" x2="527.93" y2="827.6" stroke="#111" stroke-width="1.3" />
<line x1="527.93" y1="452" x2="527.93" y2="456.2" stroke="#111" stroke-width="1.3" />
<line x1="556.12" y1="831.8" x2="556.12" y2="827.6" stroke="#111" stroke-width="1.3" />
<line x1="556.12" y1="452" x2="556.12" y2="456.2" stroke="#111" stroke-width="1.3" />
<text x="29.2" y="459" font-size="18" letter-spacing="1.2">10<tspan font-size="12" dy="-7" dx="1.6" letter-spacing="0.4">1</tspan></text>
<text x="29.2" y="553.95" font-size="18" letter-spacing="1.2">10<tspan font-size="12" dy="-7" dx="1.6" letter-spacing="0.4">0</tspan></text>
<text x="29.2" y="648.9" font-size="18" letter-spacing="1.2">10<tspan font-size="12" dy="-7" dx="1.6" letter-spacing="0.4">-1</tspan></text>
<text x="29.2" y="743.85" font-size="18" letter-spacing="1.2">10<tspan font-size="12" dy="-7" dx="1.6" letter-spacing="0.4">-2</tspan></text>
<text x="29.2" y="838.8" font-size="18" letter-spacing="1.2">10<tspan font-size="12" dy="-7" dx="1.6" letter-spacing="0.4">-3</tspan></text>
<text transform="translate(14.3 640.9) rotate(-90)" font-size="18.3" text-anchor="middle" letter-spacing="1.7">Mean free path [AU]</text>
<text x="77.5" y="862.4" font-size="18" text-anchor="middle" font-weight="normal" letter-spacing="1.8" >0</text>
<text x="162.05" y="862.4" font-size="18" text-anchor="middle" font-weight="normal" letter-spacing="1.8" >30</text>
<text x="246.6" y="862.4" font-size="18" text-anchor="middle" font-weight="normal" letter-spacing="1.8" >60</text>
<text x="331.15" y="862.4" font-size="18" text-anchor="middle" font-weight="normal" letter-spacing="1.8" >90</text>
<text x="415.7" y="862.4" font-size="18" text-anchor="middle" font-weight="normal" letter-spacing="1.8" >120</text>
<text x="500.25" y="862.4" font-size="18" text-anchor="middle" font-weight="normal" letter-spacing="1.8" >150</text>
<text x="584.8" y="862.4" font-size="18" text-anchor="middle" font-weight="normal" letter-spacing="1.8" >180</text>
<text x="269.8" y="886.4" font-size="18.3" letter-spacing="1.4">Colatitude [<tspan font-size="12" dy="-9.8" dx="0" letter-spacing="0.2">o</tspan><tspan dy="9.8">]</tspan></text>
<text x="83" y="478.7" font-size="18" text-anchor="start" font-weight="bold" letter-spacing="1.8" >1 GV</text>
<text x="527.8" y="476" font-size="18" text-anchor="start" font-weight="bold" letter-spacing="2.1" >1 AU</text>
<text x="548.6" y="819" font-size="18" text-anchor="start" font-weight="normal" letter-spacing="1" >(b)</text>
</g>
<g id="plot-c">
<path d="M77,1042.7 L96.7,1044 L116.7,1045 L116.7,1045 L117.87,1044.92 L119.04,1044.84 L120.22,1044.75 L121.39,1044.66 L122.56,1044.57 L123.73,1044.48 L124.9,1044.38 L126.08,1044.27 L127.25,1044.17 L128.42,1044.06 L129.59,1043.94 L130.76,1043.82 L131.94,1043.7 L133.11,1043.58 L134.28,1043.45 L135.45,1043.32 L136.62,1043.18 L137.79,1043.04 L138.97,1042.89 L140.14,1042.74 L141.31,1042.59 L142.48,1042.43 L143.65,1042.27 L144.83,1042.1 L146,1041.93 L147.17,1041.76 L148.34,1041.58 L149.51,1041.4 L150.69,1041.21 L151.86,1041.02 L153.03,1040.82 L154.2,1040.62 L155.37,1040.42 L156.55,1040.21 L157.72,1039.99 L158.89,1039.77 L160.06,1039.55 L161.23,1039.32 L162.41,1039.09 L163.58,1038.85 L164.75,1038.61 L165.92,1038.36 L167.09,1038.11 L168.26,1037.85 L169.44,1037.59 L170.61,1037.32 L171.78,1037.05 L172.95,1036.77 L174.12,1036.49 L175.3,1036.2 L176.47,1035.91 L177.64,1035.61 L178.81,1035.31 L179.98,1035 L181.16,1034.69 L182.33,1034.37 L183.5,1034.04 L184.67,1033.71 L185.84,1033.38 L187.02,1033.04 L188.19,1032.69 L189.36,1032.34 L190.53,1031.98 L191.7,1031.62 L192.88,1031.25 L194.05,1030.87 L195.22,1030.49 L196.39,1030.11 L197.56,1029.72 L198.74,1029.32 L199.91,1028.92 L201.08,1028.51 L202.25,1028.09 L203.42,1027.67 L204.59,1027.24 L205.77,1026.81 L206.94,1026.37 L208.11,1025.93 L209.28,1025.48 L210.45,1025.02 L211.63,1024.56 L212.8,1024.1 L213.97,1023.63 L215.14,1023.16 L216.31,1022.68 L217.49,1022.2 L218.66,1021.72 L219.83,1021.23 L221,1020.74 L222.17,1020.24 L223.35,1019.74 L224.52,1019.24 L225.69,1018.74 L226.86,1018.23 L228.03,1017.73 L229.21,1017.22 L230.38,1016.7 L231.55,1016.19 L232.72,1015.67 L233.89,1015.16 L235.06,1014.64 L236.24,1014.12 L237.41,1013.6 L238.58,1013.08 L239.75,1012.56 L240.92,1012.04 L242.1,1011.52 L243.27,1011 L244.44,1010.48 L245.61,1009.96 L246.78,1009.44 L247.96,1008.92 L249.13,1008.4 L250.3,1007.89 L251.47,1007.37 L252.64,1006.86 L253.82,1006.35 L254.99,1005.84 L256.16,1005.33 L257.33,1004.83 L258.5,1004.32 L259.68,1003.82 L260.85,1003.33 L262.02,1002.83 L263.19,1002.34 L264.36,1001.86 L265.54,1001.38 L266.71,1000.9 L267.88,1000.42 L269.05,999.95 L270.22,999.49 L271.39,999.03 L272.57,998.57 L273.74,998.13 L274.91,997.69 L276.08,997.26 L277.25,996.83 L278.43,996.42 L279.6,996.02 L280.77,995.62 L281.94,995.24 L283.11,994.87 L284.29,994.51 L285.46,994.17 L286.63,993.83 L287.8,993.51 L288.97,993.21 L290.15,992.91 L291.32,992.64 L292.49,992.37 L293.66,992.12 L294.83,991.89 L296.01,991.68 L297.18,991.48 L298.35,991.3 L299.52,991.13 L300.69,990.98 L301.86,990.86 L303.04,990.74 L304.21,990.65 L305.38,990.58 L306.55,990.52 L307.72,990.48 L308.9,990.45 L310.07,990.45 L311.24,990.46 L312.41,990.48 L313.58,990.53 L314.76,990.58 L315.93,990.66 L317.1,990.75 L318.27,990.86 L319.44,990.98 L320.62,991.12 L321.79,991.28 L322.96,991.45 L324.13,991.63 L325.3,991.83 L326.48,992.05 L327.65,992.28 L328.82,992.52 L329.99,992.78 L331.16,993.05 L332.34,993.33 L333.51,993.62 L334.68,993.92 L335.85,994.22 L337.02,994.54 L338.19,994.86 L339.37,995.18 L340.54,995.51 L341.71,995.84 L342.88,996.17 L344.05,996.5 L345.23,996.83 L346.4,997.16 L347.57,997.49 L348.74,997.81 L349.91,998.13 L351.09,998.44 L352.26,998.75 L353.43,999.05 L354.6,999.34 L355.77,999.62 L356.95,999.89 L358.12,1000.14 L359.29,1000.39 L360.46,1000.62 L361.63,1000.84 L362.81,1001.04 L363.98,1001.22 L365.15,1001.38 L366.32,1001.53 L367.49,1001.66 L368.66,1001.76 L369.84,1001.85 L371.01,1001.91 L372.18,1001.95 L373.35,1001.97 L374.52,1001.97 L375.7,1001.95 L376.87,1001.9 L378.04,1001.83 L379.21,1001.74 L380.38,1001.62 L381.56,1001.48 L382.73,1001.32 L383.9,1001.13 L385.07,1000.92 L386.24,1000.68 L387.42,1000.42 L388.59,1000.13 L389.76,999.82 L390.93,999.49 L392.1,999.13 L393.28,998.76 L394.45,998.36 L395.62,997.94 L396.79,997.5 L397.96,997.04 L399.14,996.57 L400.31,996.07 L401.48,995.56 L402.65,995.04 L403.82,994.5 L404.99,993.94 L406.17,993.37 L407.34,992.79 L408.51,992.2 L409.68,991.59 L410.85,990.98 L412.03,990.35 L413.2,989.71 L414.37,989.07 L415.54,988.42 L416.71,987.76 L417.89,987.09 L419.06,986.42 L420.23,985.74 L421.4,985.06 L422.57,984.37 L423.75,983.68 L424.92,982.99 L426.09,982.3 L427.26,981.6 L428.43,980.9 L429.61,980.21 L430.78,979.51 L431.95,978.81 L433.12,978.12 L434.29,977.43 L435.46,976.73 L436.64,976.05 L437.81,975.36 L438.98,974.69 L440.15,974.01 L441.32,973.34 L442.5,972.68 L443.67,972.03 L444.84,971.38 L446.01,970.74 L447.18,970.11 L448.36,969.49 L449.53,968.87 L450.7,968.27 L451.87,967.68 L453.04,967.1 L454.22,966.54 L455.39,965.98 L456.56,965.44 L457.73,964.92 L458.9,964.4 L460.08,963.91 L461.25,963.42 L462.42,962.95 L463.59,962.49 L464.76,962.05 L465.94,961.61 L467.11,961.19 L468.28,960.79 L469.45,960.39 L470.62,960.01 L471.79,959.64 L472.97,959.28 L474.14,958.93 L475.31,958.59 L476.48,958.26 L477.65,957.94 L478.83,957.64 L480,957.34 L481.17,957.05 L482.34,956.78 L483.51,956.51 L484.69,956.25 L485.86,956.01 L487.03,955.77 L488.2,955.54 L489.37,955.31 L490.55,955.1 L491.72,954.89 L492.89,954.7 L494.06,954.51 L495.23,954.32 L496.41,954.15 L497.58,953.98 L498.75,953.82 L499.92,953.66 L501.09,953.51 L502.26,953.37 L503.44,953.24 L504.61,953.11 L505.78,952.98 L506.95,952.86 L508.12,952.75 L509.3,952.64 L510.47,952.53 L511.64,952.43 L512.81,952.34 L513.98,952.25 L515.16,952.16 L516.33,952.07 L517.5,951.99 L518.67,951.91 L519.84,951.84 L521.02,951.77 L522.19,951.7 L523.36,951.63 L524.53,951.57 L525.7,951.51 L526.88,951.45 L528.05,951.39 L529.22,951.33 L530.39,951.28 L531.56,951.23 L532.74,951.18 L533.91,951.13 L535.08,951.08 L536.25,951.04 L537.42,951 L538.59,950.96 L539.77,950.92 L540.94,950.88 L542.11,950.84 L543.28,950.81 L544.45,950.78 L545.63,950.75 L546.8,950.72 L547.97,950.69 L549.14,950.66 L550.31,950.63 L551.49,950.61 L552.66,950.59 L553.83,950.56 L555,950.54 L556.17,950.52 L557.35,950.5 L558.52,950.49 L559.69,950.47 L560.86,950.45 L562.03,950.44 L563.21,950.43 L564.38,950.41 L565.55,950.4 L566.72,950.39 L567.89,950.38 L569.06,950.37 L570.24,950.36 L571.41,950.35 L572.58,950.34 L573.75,950.33 L574.92,950.33 L576.1,950.32 L577.27,950.31 L578.44,950.31 L579.61,950.3 L580.78,950.29 L581.96,950.29 L583.13,950.28 L584.3,950.28" fill="none" stroke="#111" stroke-width="3" stroke-linecap="round" stroke-linejoin="round"/>
<path d="M77,1169.14 L78.27,1168.66 L79.54,1168.18 L80.81,1167.71 L82.09,1167.24 L83.36,1166.76 L84.63,1166.3 L85.9,1165.83 L87.17,1165.37 L88.44,1164.91 L89.71,1164.45 L90.99,1163.99 L92.26,1163.54 L93.53,1163.09 L94.8,1162.64 L96.07,1162.2 L97.34,1161.76 L98.61,1161.32 L99.89,1160.88 L101.16,1160.44 L102.43,1160.01 L103.7,1159.58 L104.97,1159.15 L106.24,1158.73 L107.51,1158.31 L108.79,1157.89 L110.06,1157.47 L111.33,1157.06 L112.6,1156.65 L113.87,1156.24 L115.14,1155.83 L116.41,1155.43 L117.69,1155.03 L118.96,1154.63 L120.23,1154.23 L121.5,1153.84 L122.77,1153.45 L124.04,1153.06 L125.31,1152.68 L126.59,1152.29 L127.86,1151.91 L129.13,1151.54 L130.4,1151.16 L131.67,1150.79 L132.94,1150.42 L134.21,1150.05 L135.49,1149.69 L136.76,1149.33 L138.03,1148.97 L139.3,1148.61 L140.57,1148.26 L141.84,1147.91 L143.11,1147.56 L144.39,1147.21 L145.66,1146.87 L146.93,1146.53 L148.2,1146.19 L149.47,1145.86 L150.74,1145.53 L152.01,1145.2 L153.29,1144.87 L154.56,1144.55 L155.83,1144.23 L157.1,1143.91 L158.37,1143.59 L159.64,1143.28 L160.91,1142.97 L162.19,1142.66 L163.46,1142.36 L164.73,1142.05 L166,1141.75 L167.27,1141.46 L168.54,1141.16 L169.81,1140.87 L171.09,1140.58 L172.36,1140.3 L173.63,1140.01 L174.9,1139.73 L176.17,1139.46 L177.44,1139.18 L178.71,1138.91 L179.99,1138.64 L181.26,1138.37 L182.53,1138.11 L183.8,1137.85 L185.07,1137.59 L186.34,1137.34 L187.61,1137.08 L188.89,1136.83 L190.16,1136.59 L191.43,1136.34 L192.7,1136.1 L193.97,1135.86 L195.24,1135.63 L196.51,1135.39 L197.79,1135.16 L199.06,1134.93 L200.33,1134.71 L201.6,1134.49 L202.87,1134.27 L204.14,1134.05 L205.41,1133.84 L206.69,1133.63 L207.96,1133.42 L209.23,1133.21 L210.5,1133.01 L211.77,1132.81 L213.04,1132.62 L214.31,1132.42 L215.59,1132.23 L216.86,1132.04 L218.13,1131.86 L219.4,1131.68 L220.67,1131.5 L221.94,1131.32 L223.21,1131.14 L224.49,1130.97 L225.76,1130.81 L227.03,1130.64 L228.3,1130.48 L229.57,1130.32 L230.84,1130.16 L232.11,1130.01 L233.39,1129.86 L234.66,1129.71 L235.93,1129.56 L237.2,1129.42 L238.47,1129.28 L239.74,1129.15 L241.01,1129.01 L242.29,1128.88 L243.56,1128.75 L244.83,1128.63 L246.1,1128.51 L247.37,1128.39 L248.64,1128.27 L249.91,1128.16 L251.19,1128.05 L252.46,1127.94 L253.73,1127.84 L255,1127.73 L256.27,1127.64 L257.54,1127.54 L258.81,1127.45 L260.09,1127.36 L261.36,1127.27 L262.63,1127.19 L263.9,1127.11 L265.17,1127.03 L266.44,1126.95 L267.71,1126.88 L268.99,1126.81 L270.26,1126.75 L271.53,1126.69 L272.8,1126.63 L274.07,1126.57 L275.34,1126.52 L276.61,1126.48 L277.89,1126.43 L279.16,1126.39 L280.43,1126.36 L281.7,1126.32 L282.97,1126.29 L284.24,1126.27 L285.51,1126.25 L286.79,1126.23 L288.06,1126.22 L289.33,1126.21 L290.6,1126.21 L291.87,1126.21 L293.14,1126.21 L294.41,1126.22 L295.69,1126.23 L296.96,1126.25 L298.23,1126.27 L299.5,1126.3 L300.77,1126.33 L302.04,1126.36 L303.31,1126.4 L304.59,1126.45 L305.86,1126.5 L307.13,1126.55 L308.4,1126.61 L309.67,1126.68 L310.94,1126.75 L312.21,1126.82 L313.49,1126.9 L314.76,1126.99 L316.03,1127.08 L317.3,1127.17 L318.57,1127.27 L319.84,1127.38 L321.11,1127.49 L322.39,1127.61 L323.66,1127.73 L324.93,1127.86 L326.2,1128 L327.47,1128.14 L328.74,1128.28 L330.01,1128.43 L331.29,1128.59 L332.56,1128.76 L333.83,1128.92 L335.1,1129.1 L336.37,1129.28 L337.64,1129.47 L338.91,1129.66 L340.19,1129.86 L341.46,1130.06 L342.73,1130.26 L344,1130.47 L345.27,1130.69 L346.54,1130.91 L347.81,1131.13 L349.09,1131.35 L350.36,1131.58 L351.63,1131.81 L352.9,1132.04 L354.17,1132.28 L355.44,1132.52 L356.71,1132.75 L357.99,1132.99 L359.26,1133.24 L360.53,1133.48 L361.8,1133.72 L363.07,1133.97 L364.34,1134.21 L365.61,1134.46 L366.89,1134.7 L368.16,1134.95 L369.43,1135.19 L370.7,1135.43 L371.97,1135.67 L373.24,1135.91 L374.51,1136.15 L375.79,1136.39 L377.06,1136.62 L378.33,1136.85 L379.6,1137.08 L380.87,1137.31 L382.14,1137.53 L383.41,1137.75 L384.69,1137.97 L385.96,1138.18 L387.23,1138.39 L388.5,1138.6 L389.77,1138.8 L391.04,1139.01 L392.31,1139.21 L393.59,1139.41 L394.86,1139.6 L396.13,1139.8 L397.4,1139.99 L398.67,1140.19 L399.94,1140.38 L401.21,1140.57 L402.49,1140.77 L403.76,1140.96 L405.03,1141.15 L406.3,1141.35 L407.57,1141.54 L408.84,1141.74 L410.11,1141.94 L411.39,1142.14 L412.66,1142.34 L413.93,1142.54 L415.2,1142.75 L416.47,1142.96 L417.74,1143.17 L419.01,1143.38 L420.29,1143.6 L421.56,1143.82 L422.83,1144.05 L424.1,1144.28 L425.37,1144.51 L426.64,1144.75 L427.91,1144.99 L429.19,1145.24 L430.46,1145.49 L431.73,1145.75 L433,1146.02 L434.27,1146.29 L435.54,1146.57 L436.81,1146.85 L438.09,1147.15 L439.36,1147.44 L440.63,1147.75 L441.9,1148.06 L443.17,1148.38 L444.44,1148.71 L445.71,1149.05 L446.99,1149.39 L448.26,1149.74 L449.53,1150.1 L450.8,1150.46 L452.07,1150.82 L453.34,1151.19 L454.61,1151.56 L455.89,1151.93 L457.16,1152.3 L458.43,1152.68 L459.7,1153.05 L460.97,1153.42 L462.24,1153.79 L463.51,1154.16 L464.79,1154.53 L466.06,1154.89 L467.33,1155.24 L468.6,1155.6 L469.87,1155.94 L471.14,1156.28 L472.41,1156.61 L473.69,1156.94 L474.96,1157.26 L476.23,1157.56 L477.5,1157.86 L478.77,1158.14 L480.04,1158.42 L481.31,1158.68 L482.59,1158.93 L483.86,1159.17 L485.13,1159.39 L486.4,1159.6 L487.67,1159.79 L488.94,1159.97 L490.21,1160.14 L491.49,1160.3 L492.76,1160.44 L494.03,1160.57 L495.3,1160.69 L496.57,1160.8 L497.84,1160.89 L499.11,1160.98 L500.39,1161.05 L501.66,1161.11 L502.93,1161.16 L504.2,1161.2 L505.47,1161.23 L506.74,1161.25 L508.01,1161.26 L509.29,1161.26 L510.56,1161.25 L511.83,1161.23 L513.1,1161.2 L514.37,1161.16 L515.64,1161.11 L516.91,1161.06 L518.19,1160.99 L519.46,1160.92 L520.73,1160.84 L522,1160.75 L523.27,1160.66 L524.54,1160.55 L525.81,1160.44 L527.09,1160.33 L528.36,1160.2 L529.63,1160.07 L530.9,1159.93 L532.17,1159.79 L533.44,1159.64 L534.71,1159.49 L535.99,1159.33 L537.26,1159.16 L538.53,1158.99 L539.8,1158.82 L541.07,1158.64 L542.34,1158.46 L543.61,1158.28 L544.89,1158.1 L546.16,1157.91 L547.43,1157.73 L548.7,1157.55 L549.97,1157.38 L551.24,1157.21 L552.51,1157.04 L553.79,1156.87 L555.06,1156.71 L556.33,1156.56 L557.6,1156.42 L558.87,1156.28 L560.14,1156.16 L561.41,1156.04 L562.69,1155.94 L563.96,1155.84 L565.23,1155.76 L566.5,1155.69 L567.77,1155.64 L569.04,1155.6 L570.31,1155.58 L571.59,1155.57 L572.86,1155.58 L574.13,1155.61 L575.4,1155.66 L576.67,1155.73 L577.94,1155.82 L579.21,1155.93 L580.49,1156.06 L581.76,1156.22 L583.03,1156.4 L584.3,1156.6" fill="none" stroke="#111" stroke-width="3" stroke-linecap="round" stroke-linejoin="round" stroke-dasharray="11.6 7.6" stroke-dashoffset="1.1"/>
<path d="M77,1271.01 L78.27,1270.07 L79.54,1269.13 L80.81,1268.19 L82.09,1267.26 L83.36,1266.34 L84.63,1265.41 L85.9,1264.5 L87.17,1263.58 L88.44,1262.67 L89.71,1261.76 L90.99,1260.86 L92.26,1259.96 L93.53,1259.06 L94.8,1258.17 L96.07,1257.28 L97.34,1256.4 L98.61,1255.51 L99.89,1254.63 L101.16,1253.76 L102.43,1252.89 L103.7,1252.02 L104.97,1251.15 L106.24,1250.28 L107.51,1249.42 L108.79,1248.57 L110.06,1247.71 L111.33,1246.86 L112.6,1246.01 L113.87,1245.16 L115.14,1244.32 L116.41,1243.48 L117.69,1242.64 L118.96,1241.8 L120.23,1240.97 L121.5,1240.13 L122.77,1239.31 L124.04,1238.48 L125.31,1237.65 L126.59,1236.83 L127.86,1236.01 L129.13,1235.19 L130.4,1234.37 L131.67,1233.56 L132.94,1232.75 L134.21,1231.94 L135.49,1231.13 L136.76,1230.32 L138.03,1229.51 L139.3,1228.71 L140.57,1227.91 L141.84,1227.11 L143.11,1226.31 L144.39,1225.51 L145.66,1224.71 L146.93,1223.92 L148.2,1223.12 L149.47,1222.33 L150.74,1221.54 L152.01,1220.75 L153.29,1219.96 L154.56,1219.17 L155.83,1218.38 L157.1,1217.59 L158.37,1216.81 L159.64,1216.02 L160.91,1215.24 L162.19,1214.45 L163.46,1213.67 L164.73,1212.89 L166,1212.11 L167.27,1211.33 L168.54,1210.54 L169.81,1209.76 L171.09,1208.98 L172.36,1208.2 L173.63,1207.42 L174.9,1206.64 L176.17,1205.86 L177.44,1205.08 L178.71,1204.3 L179.99,1203.52 L181.26,1202.74 L182.53,1201.96 L183.8,1201.18 L185.07,1200.41 L186.34,1199.63 L187.61,1198.85 L188.89,1198.07 L190.16,1197.3 L191.43,1196.52 L192.7,1195.75 L193.97,1194.98 L195.24,1194.21 L196.51,1193.44 L197.79,1192.68 L199.06,1191.91 L200.33,1191.15 L201.6,1190.4 L202.87,1189.64 L204.14,1188.89 L205.41,1188.14 L206.69,1187.4 L207.96,1186.66 L209.23,1185.92 L210.5,1185.19 L211.77,1184.46 L213.04,1183.73 L214.31,1183.01 L215.59,1182.3 L216.86,1181.59 L218.13,1180.88 L219.4,1180.18 L220.67,1179.49 L221.94,1178.8 L223.21,1178.12 L224.49,1177.44 L225.76,1176.77 L227.03,1176.11 L228.3,1175.45 L229.57,1174.8 L230.84,1174.15 L232.11,1173.52 L233.39,1172.89 L234.66,1172.26 L235.93,1171.64 L237.2,1171.03 L238.47,1170.43 L239.74,1169.83 L241.01,1169.24 L242.29,1168.65 L243.56,1168.07 L244.83,1167.49 L246.1,1166.92 L247.37,1166.35 L248.64,1165.79 L249.91,1165.23 L251.19,1164.68 L252.46,1164.13 L253.73,1163.59 L255,1163.05 L256.27,1162.52 L257.54,1161.99 L258.81,1161.46 L260.09,1160.94 L261.36,1160.42 L262.63,1159.9 L263.9,1159.39 L265.17,1158.88 L266.44,1158.37 L267.71,1157.86 L268.99,1157.36 L270.26,1156.86 L271.53,1156.36 L272.8,1155.87 L274.07,1155.38 L275.34,1154.89 L276.61,1154.4 L277.89,1153.91 L279.16,1153.42 L280.43,1152.94 L281.7,1152.45 L282.97,1151.97 L284.24,1151.49 L285.51,1151.01 L286.79,1150.53 L288.06,1150.06 L289.33,1149.58 L290.6,1149.11 L291.87,1148.63 L293.14,1148.16 L294.41,1147.69 L295.69,1147.22 L296.96,1146.76 L298.23,1146.29 L299.5,1145.83 L300.77,1145.37 L302.04,1144.91 L303.31,1144.45 L304.59,1144 L305.86,1143.54 L307.13,1143.09 L308.4,1142.64 L309.67,1142.2 L310.94,1141.75 L312.21,1141.31 L313.49,1140.87 L314.76,1140.43 L316.03,1139.99 L317.3,1139.55 L318.57,1139.12 L319.84,1138.69 L321.11,1138.26 L322.39,1137.84 L323.66,1137.42 L324.93,1137 L326.2,1136.58 L327.47,1136.16 L328.74,1135.75 L330.01,1135.34 L331.29,1134.93 L332.56,1134.53 L333.83,1134.13 L335.1,1133.73 L336.37,1133.33 L337.64,1132.94 L338.91,1132.55 L340.19,1132.16 L341.46,1131.77 L342.73,1131.39 L344,1131.01 L345.27,1130.64 L346.54,1130.26 L347.81,1129.89 L349.09,1129.53 L350.36,1129.16 L351.63,1128.8 L352.9,1128.45 L354.17,1128.09 L355.44,1127.74 L356.71,1127.4 L357.99,1127.05 L359.26,1126.71 L360.53,1126.38 L361.8,1126.04 L363.07,1125.71 L364.34,1125.39 L365.61,1125.07 L366.89,1124.75 L368.16,1124.43 L369.43,1124.12 L370.7,1123.82 L371.97,1123.51 L373.24,1123.21 L374.51,1122.92 L375.79,1122.62 L377.06,1122.33 L378.33,1122.04 L379.6,1121.76 L380.87,1121.48 L382.14,1121.19 L383.41,1120.92 L384.69,1120.64 L385.96,1120.36 L387.23,1120.09 L388.5,1119.81 L389.77,1119.54 L391.04,1119.27 L392.31,1119 L393.59,1118.73 L394.86,1118.46 L396.13,1118.19 L397.4,1117.92 L398.67,1117.65 L399.94,1117.37 L401.21,1117.1 L402.49,1116.83 L403.76,1116.55 L405.03,1116.28 L406.3,1116 L407.57,1115.72 L408.84,1115.44 L410.11,1115.16 L411.39,1114.87 L412.66,1114.58 L413.93,1114.29 L415.2,1114 L416.47,1113.7 L417.74,1113.4 L419.01,1113.09 L420.29,1112.78 L421.56,1112.47 L422.83,1112.16 L424.1,1111.84 L425.37,1111.51 L426.64,1111.18 L427.91,1110.85 L429.19,1110.51 L430.46,1110.16 L431.73,1109.81 L433,1109.46 L434.27,1109.09 L435.54,1108.72 L436.81,1108.35 L438.09,1107.97 L439.36,1107.58 L440.63,1107.19 L441.9,1106.78 L443.17,1106.38 L444.44,1105.96 L445.71,1105.54 L446.99,1105.1 L448.26,1104.66 L449.53,1104.22 L450.8,1103.76 L452.07,1103.29 L453.34,1102.82 L454.61,1102.34 L455.89,1101.85 L457.16,1101.36 L458.43,1100.85 L459.7,1100.34 L460.97,1099.83 L462.24,1099.3 L463.51,1098.78 L464.79,1098.24 L466.06,1097.7 L467.33,1097.16 L468.6,1096.61 L469.87,1096.05 L471.14,1095.49 L472.41,1094.93 L473.69,1094.36 L474.96,1093.79 L476.23,1093.21 L477.5,1092.63 L478.77,1092.05 L480.04,1091.47 L481.31,1090.88 L482.59,1090.3 L483.86,1089.7 L485.13,1089.11 L486.4,1088.52 L487.67,1087.92 L488.94,1087.33 L490.21,1086.73 L491.49,1086.14 L492.76,1085.54 L494.03,1084.94 L495.3,1084.35 L496.57,1083.75 L497.84,1083.16 L499.11,1082.56 L500.39,1081.97 L501.66,1081.38 L502.93,1080.79 L504.2,1080.2 L505.47,1079.62 L506.74,1079.04 L508.01,1078.46 L509.29,1077.88 L510.56,1077.31 L511.83,1076.74 L513.1,1076.18 L514.37,1075.62 L515.64,1075.06 L516.91,1074.51 L518.19,1073.96 L519.46,1073.41 L520.73,1072.87 L522,1072.33 L523.27,1071.79 L524.54,1071.25 L525.81,1070.72 L527.09,1070.2 L528.36,1069.67 L529.63,1069.15 L530.9,1068.64 L532.17,1068.12 L533.44,1067.61 L534.71,1067.11 L535.99,1066.6 L537.26,1066.1 L538.53,1065.6 L539.8,1065.11 L541.07,1064.62 L542.34,1064.13 L543.61,1063.65 L544.89,1063.16 L546.16,1062.69 L547.43,1062.21 L548.7,1061.74 L549.97,1061.27 L551.24,1060.8 L552.51,1060.34 L553.79,1059.87 L555.06,1059.42 L556.33,1058.96 L557.6,1058.51 L558.87,1058.06 L560.14,1057.61 L561.41,1057.17 L562.69,1056.73 L563.96,1056.29 L565.23,1055.85 L566.5,1055.42 L567.77,1054.99 L569.04,1054.56 L570.31,1054.14 L571.59,1053.72 L572.86,1053.3 L574.13,1052.88 L575.4,1052.47 L576.67,1052.06 L577.94,1051.65 L579.21,1051.24 L580.49,1050.84 L581.76,1050.44 L583.03,1050.04 L584.3,1049.64" fill="none" stroke="#111" stroke-width="3" stroke-linecap="round" stroke-linejoin="round" stroke-dasharray="8.0 5.3 0 5.3"/>
<rect x="77" y="898.4" width="507.3" height="405.6" fill="none" stroke="#111" stroke-width="1.3"/>
<line x1="77" y1="966" x2="82.8" y2="966" stroke="#111" stroke-width="1.2" />
<line x1="584.3" y1="966" x2="578.5" y2="966" stroke="#111" stroke-width="1.2" />
<line x1="77" y1="1033.6" x2="82.8" y2="1033.6" stroke="#111" stroke-width="1.2" />
<line x1="584.3" y1="1033.6" x2="578.5" y2="1033.6" stroke="#111" stroke-width="1.2" />
<line x1="77" y1="1101.2" x2="82.8" y2="1101.2" stroke="#111" stroke-width="1.2" />
<line x1="584.3" y1="1101.2" x2="578.5" y2="1101.2" stroke="#111" stroke-width="1.2" />
<line x1="77" y1="1168.8" x2="82.8" y2="1168.8" stroke="#111" stroke-width="1.2" />
<line x1="584.3" y1="1168.8" x2="578.5" y2="1168.8" stroke="#111" stroke-width="1.2" />
<line x1="77" y1="1236.4" x2="82.8" y2="1236.4" stroke="#111" stroke-width="1.2" />
<line x1="584.3" y1="1236.4" x2="578.5" y2="1236.4" stroke="#111" stroke-width="1.2" />
<line x1="102.12" y1="1304" x2="102.12" y2="1299.3" stroke="#111" stroke-width="1.2" />
<line x1="102.12" y1="898.4" x2="102.12" y2="903.1" stroke="#111" stroke-width="1.2" />
<line x1="121.61" y1="1304" x2="121.61" y2="1299.3" stroke="#111" stroke-width="1.2" />
<line x1="121.61" y1="898.4" x2="121.61" y2="903.1" stroke="#111" stroke-width="1.2" />
<line x1="137.53" y1="1304" x2="137.53" y2="1299.3" stroke="#111" stroke-width="1.2" />
<line x1="137.53" y1="898.4" x2="137.53" y2="903.1" stroke="#111" stroke-width="1.2" />
<line x1="150.99" y1="1304" x2="150.99" y2="1299.3" stroke="#111" stroke-width="1.2" />
<line x1="150.99" y1="898.4" x2="150.99" y2="903.1" stroke="#111" stroke-width="1.2" />
<line x1="162.65" y1="1304" x2="162.65" y2="1299.3" stroke="#111" stroke-width="1.2" />
<line x1="162.65" y1="898.4" x2="162.65" y2="903.1" stroke="#111" stroke-width="1.2" />
<line x1="172.94" y1="1304" x2="172.94" y2="1299.3" stroke="#111" stroke-width="1.2" />
<line x1="172.94" y1="898.4" x2="172.94" y2="903.1" stroke="#111" stroke-width="1.2" />
<line x1="182.14" y1="1304" x2="182.14" y2="1296.8" stroke="#111" stroke-width="1.2" />
<line x1="182.14" y1="898.4" x2="182.14" y2="905.6" stroke="#111" stroke-width="1.2" />
<line x1="242.67" y1="1304" x2="242.67" y2="1299.3" stroke="#111" stroke-width="1.2" />
<line x1="242.67" y1="898.4" x2="242.67" y2="903.1" stroke="#111" stroke-width="1.2" />
<line x1="278.08" y1="1304" x2="278.08" y2="1299.3" stroke="#111" stroke-width="1.2" />
<line x1="278.08" y1="898.4" x2="278.08" y2="903.1" stroke="#111" stroke-width="1.2" />
<line x1="303.2" y1="1304" x2="303.2" y2="1299.3" stroke="#111" stroke-width="1.2" />
<line x1="303.2" y1="898.4" x2="303.2" y2="903.1" stroke="#111" stroke-width="1.2" />
<line x1="322.69" y1="1304" x2="322.69" y2="1299.3" stroke="#111" stroke-width="1.2" />
<line x1="322.69" y1="898.4" x2="322.69" y2="903.1" stroke="#111" stroke-width="1.2" />
<line x1="338.61" y1="1304" x2="338.61" y2="1299.3" stroke="#111" stroke-width="1.2" />
<line x1="338.61" y1="898.4" x2="338.61" y2="903.1" stroke="#111" stroke-width="1.2" />
<line x1="352.07" y1="1304" x2="352.07" y2="1299.3" stroke="#111" stroke-width="1.2" />
<line x1="352.07" y1="898.4" x2="352.07" y2="903.1" stroke="#111" stroke-width="1.2" />
<line x1="363.73" y1="1304" x2="363.73" y2="1299.3" stroke="#111" stroke-width="1.2" />
<line x1="363.73" y1="898.4" x2="363.73" y2="903.1" stroke="#111" stroke-width="1.2" />
<line x1="374.02" y1="1304" x2="374.02" y2="1299.3" stroke="#111" stroke-width="1.2" />
<line x1="374.02" y1="898.4" x2="374.02" y2="903.1" stroke="#111" stroke-width="1.2" />
<line x1="383.22" y1="1304" x2="383.22" y2="1296.8" stroke="#111" stroke-width="1.2" />
<line x1="383.22" y1="898.4" x2="383.22" y2="905.6" stroke="#111" stroke-width="1.2" />
<line x1="443.75" y1="1304" x2="443.75" y2="1299.3" stroke="#111" stroke-width="1.2" />
<line x1="443.75" y1="898.4" x2="443.75" y2="903.1" stroke="#111" stroke-width="1.2" />
<line x1="479.16" y1="1304" x2="479.16" y2="1299.3" stroke="#111" stroke-width="1.2" />
<line x1="479.16" y1="898.4" x2="479.16" y2="903.1" stroke="#111" stroke-width="1.2" />
<line x1="504.28" y1="1304" x2="504.28" y2="1299.3" stroke="#111" stroke-width="1.2" />
<line x1="504.28" y1="898.4" x2="504.28" y2="903.1" stroke="#111" stroke-width="1.2" />
<line x1="523.77" y1="1304" x2="523.77" y2="1299.3" stroke="#111" stroke-width="1.2" />
<line x1="523.77" y1="898.4" x2="523.77" y2="903.1" stroke="#111" stroke-width="1.2" />
<line x1="539.69" y1="1304" x2="539.69" y2="1299.3" stroke="#111" stroke-width="1.2" />
<line x1="539.69" y1="898.4" x2="539.69" y2="903.1" stroke="#111" stroke-width="1.2" />
<line x1="553.15" y1="1304" x2="553.15" y2="1299.3" stroke="#111" stroke-width="1.2" />
<line x1="553.15" y1="898.4" x2="553.15" y2="903.1" stroke="#111" stroke-width="1.2" />
<line x1="564.81" y1="1304" x2="564.81" y2="1299.3" stroke="#111" stroke-width="1.2" />
<line x1="564.81" y1="898.4" x2="564.81" y2="903.1" stroke="#111" stroke-width="1.2" />
<line x1="575.1" y1="1304" x2="575.1" y2="1299.3" stroke="#111" stroke-width="1.2" />
<line x1="575.1" y1="898.4" x2="575.1" y2="903.1" stroke="#111" stroke-width="1.2" />
<text x="29.2" y="905.4" font-size="18" letter-spacing="1.2">10<tspan font-size="12" dy="-7" dx="1.6" letter-spacing="0.4">2</tspan></text>
<text x="29.2" y="973" font-size="18" letter-spacing="1.2">10<tspan font-size="12" dy="-7" dx="1.6" letter-spacing="0.4">1</tspan></text>
<text x="29.2" y="1040.6" font-size="18" letter-spacing="1.2">10<tspan font-size="12" dy="-7" dx="1.6" letter-spacing="0.4">0</tspan></text>
<text x="29.2" y="1108.2" font-size="18" letter-spacing="1.2">10<tspan font-size="12" dy="-7" dx="1.6" letter-spacing="0.4">-1</tspan></text>
<text x="29.2" y="1175.8" font-size="18" letter-spacing="1.2">10<tspan font-size="12" dy="-7" dx="1.6" letter-spacing="0.4">-2</tspan></text>
<text x="29.2" y="1243.4" font-size="18" letter-spacing="1.2">10<tspan font-size="12" dy="-7" dx="1.6" letter-spacing="0.4">-3</tspan></text>
<text x="29.2" y="1311" font-size="18" letter-spacing="1.2">10<tspan font-size="12" dy="-7" dx="1.6" letter-spacing="0.4">-4</tspan></text>
<text transform="translate(14.3 1100.2) rotate(-90)" font-size="18.3" text-anchor="middle" letter-spacing="1.7">Mean free path [AU]</text>
<text x="182.34" y="1335" font-size="18" text-anchor="middle" font-weight="normal" letter-spacing="1.6" >1</text>
<text x="383.42" y="1335" font-size="18" text-anchor="middle" font-weight="normal" letter-spacing="1.6" >10</text>
<text x="584.5" y="1335" font-size="18" text-anchor="middle" font-weight="normal" letter-spacing="1.6" >100</text>
<text x="232.4" y="1354.8" font-size="18.3" text-anchor="start" font-weight="normal" letter-spacing="1.55" >Radial distance [AU]</text>
<text x="83" y="923" font-size="18" text-anchor="start" font-weight="bold" letter-spacing="1.8" >1 GV</text>
<text x="500.6" y="924" font-size="18" text-anchor="start" font-weight="bold" letter-spacing="1.7" >Ecliptic</text>
<text x="551" y="1291" font-size="18" text-anchor="start" font-weight="normal" letter-spacing="1" >(c)</text>
</g>
</svg>
</body>
</html>
